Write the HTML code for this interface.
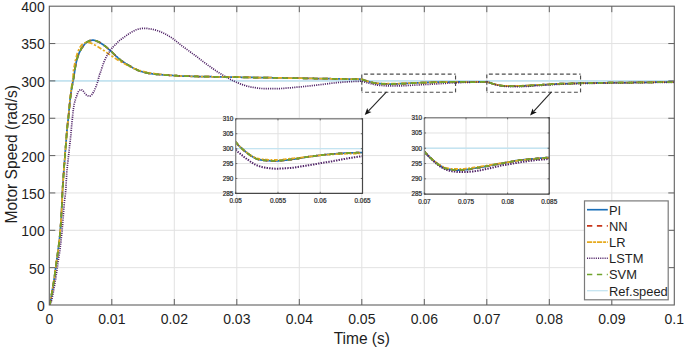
<!DOCTYPE html>
<html><head><meta charset="utf-8"><style>
html,body{margin:0;padding:0;background:#fff;width:685px;height:349px;overflow:hidden}
svg{display:block;font-family:"Liberation Sans",sans-serif}
svg text{fill:#1e1e1e}
svg text.it{stroke:#333;stroke-width:0.22px}
</style></head><body>
<svg width="685" height="349" viewBox="0 0 685 349">
<line x1="111.80" y1="6.20" x2="111.80" y2="305.00" stroke="#e2e2e2" stroke-width="1.0"/>
<line x1="174.30" y1="6.20" x2="174.30" y2="305.00" stroke="#e2e2e2" stroke-width="1.0"/>
<line x1="236.80" y1="6.20" x2="236.80" y2="305.00" stroke="#e2e2e2" stroke-width="1.0"/>
<line x1="299.30" y1="6.20" x2="299.30" y2="305.00" stroke="#e2e2e2" stroke-width="1.0"/>
<line x1="361.80" y1="6.20" x2="361.80" y2="305.00" stroke="#e2e2e2" stroke-width="1.0"/>
<line x1="424.30" y1="6.20" x2="424.30" y2="305.00" stroke="#e2e2e2" stroke-width="1.0"/>
<line x1="486.80" y1="6.20" x2="486.80" y2="305.00" stroke="#e2e2e2" stroke-width="1.0"/>
<line x1="549.30" y1="6.20" x2="549.30" y2="305.00" stroke="#e2e2e2" stroke-width="1.0"/>
<line x1="611.80" y1="6.20" x2="611.80" y2="305.00" stroke="#e2e2e2" stroke-width="1.0"/>
<line x1="49.30" y1="267.65" x2="674.30" y2="267.65" stroke="#e2e2e2" stroke-width="1.0"/>
<line x1="49.30" y1="230.30" x2="674.30" y2="230.30" stroke="#e2e2e2" stroke-width="1.0"/>
<line x1="49.30" y1="192.95" x2="674.30" y2="192.95" stroke="#e2e2e2" stroke-width="1.0"/>
<line x1="49.30" y1="155.60" x2="674.30" y2="155.60" stroke="#e2e2e2" stroke-width="1.0"/>
<line x1="49.30" y1="118.25" x2="674.30" y2="118.25" stroke="#e2e2e2" stroke-width="1.0"/>
<line x1="49.30" y1="80.90" x2="674.30" y2="80.90" stroke="#e2e2e2" stroke-width="1.0"/>
<line x1="49.30" y1="43.55" x2="674.30" y2="43.55" stroke="#e2e2e2" stroke-width="1.0"/>
<clipPath id="cm"><rect x="49.30" y="6.20" width="625.00" height="298.80"/></clipPath>
<line x1="49.30" y1="80.90" x2="674.30" y2="80.90" stroke="#c4e4f1" stroke-width="1.7"/>
<g clip-path="url(#cm)">
<path d="M49.3,305.0 49.8,303.8 50.1,302.7 50.4,301.5 50.7,300.0 50.9,299.1 51.0,298.1 51.2,297.1 51.3,296.1 51.5,295.2 51.6,294.3 51.8,293.3 52.0,292.4 52.1,291.5 52.3,290.6 52.4,289.6 52.6,288.7 52.7,287.8 52.9,286.9 53.1,286.0 53.2,285.1 53.4,284.2 53.5,283.3 53.7,282.3 53.8,281.4 54.0,280.4 54.1,279.3 54.3,278.2 54.5,277.1 54.6,275.9 54.8,274.7 54.9,273.5 55.1,272.3 55.2,271.1 55.4,269.9 55.6,268.7 55.7,267.5 55.9,266.4 56.0,265.3 56.2,264.2 56.3,263.1 56.5,262.0 56.6,260.9 56.8,259.8 57.0,258.7 57.1,257.5 57.3,256.4 57.4,255.3 57.6,254.1 57.7,253.0 57.9,251.8 58.1,250.7 58.2,249.6 58.4,248.5 58.5,247.3 58.7,246.1 58.8,244.9 59.0,243.6 59.1,242.3 59.3,240.9 59.5,239.4 59.6,237.9 59.8,236.2 59.9,234.5 60.1,232.7 60.2,230.8 60.4,228.8 60.6,226.8 60.7,224.7 60.9,222.5 61.0,220.2 61.2,217.9 61.3,215.4 61.5,212.7 61.6,209.9 61.8,206.9 62.0,203.7 62.1,199.8 62.3,195.8 62.4,192.3 62.6,189.4 62.7,186.8 62.9,184.2 63.1,181.9 63.2,179.6 63.4,177.3 63.5,175.1 63.7,172.9 63.8,170.7 64.0,168.6 64.1,166.5 64.3,164.5 64.5,162.5 64.6,160.5 64.8,158.5 64.9,156.5 65.1,154.5 65.2,152.4 65.4,150.4 65.6,148.3 65.7,146.2 65.9,144.2 66.0,142.2 66.2,140.3 66.3,138.3 66.5,136.4 66.6,134.5 66.8,132.6 67.0,130.7 67.1,128.9 67.3,127.3 67.4,125.7 67.6,124.3 67.7,123.0 67.9,121.8 68.1,120.5 68.2,119.2 68.4,117.8 68.5,116.2 68.7,114.6 68.8,112.9 69.0,111.2 69.1,109.5 69.3,107.8 69.5,106.1 69.6,104.5 69.8,103.0 69.9,101.5 70.1,100.2 70.2,98.8 70.4,97.5 70.6,96.3 70.7,95.0 70.9,93.8 71.0,92.7 71.2,91.6 71.3,90.6 71.5,89.6 71.6,88.7 71.8,87.7 72.0,86.9 72.1,86.0 72.3,85.1 72.4,84.3 72.7,82.8 73.1,81.3 73.2,80.5 73.4,79.6 73.5,78.7 73.7,77.7 73.8,76.7 74.0,75.7 74.1,74.6 74.3,73.6 74.5,72.6 74.6,71.6 74.8,70.6 74.9,69.6 75.1,68.6 75.2,67.6 75.4,66.6 75.6,65.7 75.7,64.8 76.0,63.3 76.3,61.9 76.7,60.6 77.0,59.4 77.3,58.3 77.6,57.2 77.9,56.3 78.2,55.4 78.5,54.6 78.8,53.8 79.2,53.0 79.6,52.0 80.1,51.0 80.6,50.2 81.0,49.3 81.5,48.6 82.0,47.9 82.4,47.2 82.9,46.5 83.5,45.7 84.2,44.8 84.8,44.0 85.4,43.3 86.0,42.8 86.8,42.2 87.6,41.7 88.4,41.3 89.2,40.9 89.9,40.7 90.7,40.5 91.5,40.3 92.4,40.1 93.4,40.1 94.3,40.3 95.1,40.5 95.9,40.8 96.7,41.1 97.4,41.4 98.2,41.7 99.0,42.1 99.8,42.6 100.6,43.1 101.3,43.6 102.1,44.0 102.9,44.6 103.7,45.1 104.5,45.7 105.3,46.3 106.0,46.9 106.7,47.4 107.3,47.9 107.9,48.5 108.5,49.1 109.2,49.6 109.8,50.2 110.4,50.7 111.0,51.3 111.7,51.8 112.3,52.4 112.9,53.1 113.5,53.7 114.2,54.3 114.8,54.9 115.4,55.5 116.0,56.1 116.7,56.7 117.3,57.2 117.9,57.8 118.5,58.3 119.2,58.9 119.8,59.4 120.4,59.9 121.0,60.4 121.8,61.0 122.6,61.6 123.4,62.1 124.2,62.6 124.9,63.1 125.7,63.6 126.5,64.0 127.3,64.5 128.1,64.9 128.9,65.4 129.6,65.9 130.4,66.3 131.2,66.8 132.0,67.3 132.8,67.7 133.5,68.2 134.3,68.6 135.1,68.9 135.9,69.3 136.7,69.7 137.4,70.1 138.2,70.4 139.0,70.7 139.8,71.0 140.6,71.3 141.4,71.5 142.1,71.7 142.9,72.0 143.7,72.2 144.5,72.4 145.3,72.6 146.0,72.7 146.8,72.9 147.8,73.1 148.7,73.3 149.6,73.4 150.6,73.6 151.5,73.7 152.5,73.8 153.4,73.9 154.3,74.1 155.3,74.2 156.2,74.3 157.1,74.3 158.1,74.4 159.0,74.5 160.0,74.6 160.9,74.7 161.8,74.7 162.8,74.8 163.7,74.9 164.6,75.0 165.6,75.0 166.5,75.1 167.5,75.1 168.4,75.2 169.3,75.3 170.3,75.3 171.2,75.4 172.1,75.4 173.1,75.5 174.0,75.6 175.0,75.6 175.9,75.7 176.8,75.7 177.8,75.8 178.7,75.8 179.6,75.9 180.6,75.9 181.5,76.0 182.5,76.0 183.4,76.0 184.3,76.1 185.3,76.1 186.2,76.1 187.1,76.2 188.1,76.2 189.0,76.2 190.0,76.2 190.9,76.3 191.8,76.3 192.8,76.3 193.7,76.3 194.6,76.4 195.6,76.4 196.5,76.4 197.5,76.4 198.4,76.5 199.3,76.5 200.3,76.5 201.2,76.5 202.2,76.5 203.1,76.6 204.0,76.6 205.0,76.6 205.9,76.6 206.8,76.7 207.8,76.7 208.7,76.7 209.7,76.7 210.6,76.7 211.5,76.7 212.5,76.8 213.4,76.8 214.3,76.8 215.3,76.8 216.2,76.8 217.2,76.9 218.1,76.9 219.0,76.9 220.0,76.9 220.9,76.9 221.8,76.9 222.8,77.0 223.7,77.0 224.7,77.0 225.6,77.0 226.5,77.0 227.5,77.0 228.4,77.0 229.3,77.1 230.3,77.1 231.2,77.1 232.2,77.1 233.1,77.1 234.0,77.1 235.0,77.2 235.9,77.2 236.8,77.2 237.8,77.2 238.7,77.2 239.7,77.2 240.6,77.2 241.5,77.3 242.5,77.3 243.4,77.3 244.3,77.3 245.3,77.3 246.2,77.3 247.2,77.4 248.1,77.4 249.0,77.4 250.0,77.4 250.9,77.4 251.9,77.4 252.8,77.4 253.7,77.5 254.7,77.5 255.6,77.5 256.5,77.5 257.5,77.5 258.4,77.5 259.4,77.6 260.3,77.6 261.2,77.6 262.2,77.6 263.1,77.6 264.0,77.6 265.0,77.6 265.9,77.7 266.9,77.7 267.8,77.7 268.7,77.7 269.7,77.7 270.6,77.7 271.5,77.7 272.5,77.8 273.4,77.8 274.4,77.8 275.3,77.8 276.2,77.8 277.2,77.8 278.1,77.8 279.0,77.9 280.0,77.9 280.9,77.9 281.9,77.9 282.8,77.9 283.7,77.9 284.7,78.0 285.6,78.0 286.5,78.0 287.5,78.0 288.4,78.0 289.4,78.0 290.3,78.0 291.2,78.1 292.2,78.1 293.1,78.1 294.0,78.1 295.0,78.1 295.9,78.1 296.9,78.1 297.8,78.2 298.7,78.2 299.7,78.2 300.6,78.2 301.6,78.2 302.5,78.2 303.4,78.3 304.4,78.3 305.3,78.3 306.2,78.3 307.2,78.3 308.1,78.3 309.1,78.4 310.0,78.4 310.9,78.4 311.9,78.4 312.8,78.4 313.7,78.4 314.7,78.5 315.6,78.5 316.6,78.5 317.5,78.5 318.4,78.5 319.4,78.5 320.3,78.6 321.2,78.6 322.2,78.6 323.1,78.6 324.1,78.6 325.0,78.6 325.9,78.7 326.9,78.7 327.8,78.7 328.7,78.7 329.7,78.7 330.6,78.7 331.6,78.8 332.5,78.8 333.4,78.8 334.4,78.8 335.3,78.8 336.2,78.8 337.2,78.9 338.1,78.9 339.1,78.9 340.0,78.9 340.9,78.9 341.9,78.9 342.8,78.9 343.7,78.9 344.7,79.0 345.6,79.0 346.6,79.0 347.5,79.0 348.4,79.0 349.4,79.0 350.3,79.0 351.3,79.0 352.2,79.0 353.1,79.0 354.1,79.0 355.0,79.1 355.9,79.1 356.9,79.1 357.8,79.1 358.8,79.2 359.7,79.2 360.6,79.2 361.6,79.3 362.5,79.5 363.3,79.9 364.1,80.2 364.8,80.4 365.6,80.6 366.4,80.9 367.2,81.1 368.0,81.4 368.8,81.6 369.5,81.8 370.3,82.0 371.1,82.2 371.9,82.4 372.7,82.6 373.6,82.8 374.5,83.0 375.5,83.2 376.4,83.3 377.4,83.5 378.3,83.6 379.2,83.6 380.2,83.7 381.1,83.7 382.0,83.8 383.0,83.8 383.9,83.9 384.9,83.9 385.8,83.9 386.7,83.9 387.7,83.9 388.6,84.0 389.5,84.0 390.5,84.0 391.4,84.0 392.4,84.0 393.3,83.9 394.2,83.9 395.2,83.9 396.1,83.9 397.0,83.8 398.0,83.8 398.9,83.8 399.9,83.7 400.8,83.7 401.7,83.6 402.7,83.6 403.6,83.6 404.5,83.5 405.5,83.5 406.4,83.4 407.4,83.4 408.3,83.3 409.2,83.3 410.2,83.2 411.1,83.2 412.0,83.1 413.0,83.1 413.9,83.0 414.9,83.0 415.8,82.9 416.7,82.9 417.7,82.8 418.6,82.8 419.5,82.8 420.5,82.7 421.4,82.7 422.4,82.6 423.3,82.6 424.2,82.6 425.2,82.5 426.1,82.5 427.1,82.4 428.0,82.4 428.9,82.4 429.9,82.4 430.8,82.3 431.7,82.3 432.7,82.3 433.6,82.2 434.6,82.2 435.5,82.2 436.4,82.2 437.4,82.1 438.3,82.1 439.2,82.1 440.2,82.1 441.1,82.1 442.1,82.0 443.0,82.0 443.9,82.0 444.9,82.0 445.8,82.0 446.7,82.0 447.7,82.0 448.6,82.0 449.6,81.9 450.5,81.9 451.4,81.9 452.4,81.9 453.3,81.9 454.2,81.9 455.2,81.9 456.1,81.9 457.1,81.9 458.0,81.9 458.9,81.9 459.9,81.9 460.8,81.9 461.7,81.9 462.7,81.9 463.6,81.9 464.6,81.9 465.5,82.0 466.4,82.0 467.4,82.0 468.3,82.0 469.2,82.0 470.2,82.0 471.1,82.0 472.1,82.0 473.0,82.0 473.9,82.0 474.9,82.0 475.8,81.9 476.8,81.9 477.7,81.9 478.6,81.9 479.6,81.9 480.5,81.8 481.4,81.8 482.4,81.8 483.3,81.8 484.3,81.8 485.2,81.8 486.1,81.8 487.1,81.8 487.8,82.1 488.6,82.4 489.4,82.6 490.2,82.9 491.0,83.1 491.8,83.4 492.5,83.6 493.3,83.8 494.1,84.0 494.9,84.3 495.7,84.5 496.4,84.7 497.2,84.9 498.0,85.0 498.9,85.2 499.9,85.4 500.8,85.6 501.8,85.7 502.7,85.8 503.6,85.9 504.6,86.0 505.5,86.1 506.4,86.1 507.4,86.1 508.3,86.2 509.3,86.2 510.2,86.2 511.1,86.2 512.1,86.2 513.0,86.2 513.9,86.2 514.9,86.2 515.8,86.2 516.8,86.2 517.7,86.1 518.6,86.1 519.6,86.1 520.5,86.0 521.4,86.0 522.4,85.9 523.3,85.8 524.3,85.8 525.2,85.7 526.1,85.7 527.1,85.6 528.0,85.6 529.0,85.5 529.9,85.5 530.8,85.4 531.8,85.4 532.7,85.3 533.6,85.3 534.6,85.2 535.5,85.2 536.5,85.1 537.4,85.0 538.3,85.0 539.3,84.9 540.2,84.9 541.1,84.8 542.1,84.8 543.0,84.7 544.0,84.6 544.9,84.6 545.8,84.5 546.8,84.5 547.7,84.4 548.6,84.4 549.6,84.3 550.5,84.3 551.5,84.2 552.4,84.1 553.3,84.1 554.3,84.0 555.2,84.0 556.1,83.9 557.1,83.9 558.0,83.8 559.0,83.8 559.9,83.7 560.8,83.7 561.8,83.7 562.7,83.7 563.6,83.6 564.6,83.6 565.5,83.6 566.5,83.6 567.4,83.5 568.3,83.5 569.3,83.5 570.2,83.5 571.1,83.4 572.1,83.4 573.0,83.4 574.0,83.3 574.9,83.3 575.8,83.3 576.8,83.3 577.7,83.2 578.7,83.2 579.6,83.2 580.5,83.2 581.5,83.1 582.4,83.1 583.3,83.1 584.3,83.1 585.2,83.1 586.2,83.1 587.1,83.0 588.0,83.0 589.0,83.0 589.9,83.0 590.8,83.0 591.8,83.0 592.7,82.9 593.7,82.9 594.6,82.9 595.5,82.9 596.5,82.9 597.4,82.9 598.3,82.9 599.3,82.9 600.2,82.8 601.2,82.8 602.1,82.8 603.0,82.8 604.0,82.8 604.9,82.8 605.8,82.8 606.8,82.8 607.7,82.7 608.7,82.7 609.6,82.7 610.5,82.7 611.5,82.7 612.4,82.7 613.3,82.7 614.3,82.7 615.2,82.7 616.2,82.6 617.1,82.6 618.0,82.6 619.0,82.6 619.9,82.6 620.8,82.6 621.8,82.6 622.7,82.6 623.7,82.6 624.6,82.5 625.5,82.5 626.5,82.5 627.4,82.5 628.4,82.5 629.3,82.5 630.2,82.5 631.2,82.5 632.1,82.5 633.0,82.5 634.0,82.4 634.9,82.4 635.9,82.4 636.8,82.4 637.7,82.4 638.7,82.4 639.6,82.4 640.5,82.4 641.5,82.4 642.4,82.4 643.4,82.4 644.3,82.3 645.2,82.3 646.2,82.3 647.1,82.3 648.0,82.3 649.0,82.3 649.9,82.3 650.9,82.3 651.8,82.3 652.7,82.3 653.7,82.3 654.6,82.2 655.5,82.2 656.5,82.2 657.4,82.2 658.4,82.2 659.3,82.2 660.2,82.2 661.2,82.2 662.1,82.2 663.0,82.2 664.0,82.2 664.9,82.1 665.9,82.1 666.8,82.1 667.7,82.1 668.7,82.1 669.6,82.1 670.5,82.1 671.5,82.1 672.4,82.1 673.4,82.1 674.3,82.1" stroke="#1a6fb8" stroke-width="1.75" fill="none"/>
<path d="M49.3,305.0 49.8,303.8 50.1,302.7 50.4,301.5 50.7,300.0 50.9,299.1 51.0,298.1 51.2,297.1 51.3,296.1 51.5,295.2 51.6,294.3 51.8,293.3 52.0,292.4 52.1,291.5 52.3,290.6 52.4,289.6 52.6,288.7 52.7,287.8 52.9,286.9 53.1,286.0 53.2,285.1 53.4,284.2 53.5,283.3 53.7,282.3 53.8,281.4 54.0,280.4 54.1,279.3 54.3,278.2 54.5,277.1 54.6,275.9 54.8,274.7 54.9,273.5 55.1,272.3 55.2,271.1 55.4,269.9 55.6,268.7 55.7,267.5 55.9,266.4 56.0,265.3 56.2,264.2 56.3,263.1 56.5,262.0 56.6,260.9 56.8,259.8 57.0,258.7 57.1,257.5 57.3,256.4 57.4,255.3 57.6,254.1 57.7,253.0 57.9,251.8 58.1,250.7 58.2,249.6 58.4,248.5 58.5,247.3 58.7,246.1 58.8,244.9 59.0,243.6 59.1,242.3 59.3,240.9 59.5,239.4 59.6,237.9 59.8,236.2 59.9,234.5 60.1,232.7 60.2,230.8 60.4,228.8 60.6,226.8 60.7,224.7 60.9,222.5 61.0,220.2 61.2,217.9 61.3,215.4 61.5,212.7 61.6,209.9 61.8,206.9 62.0,203.7 62.1,199.8 62.3,195.8 62.4,192.3 62.6,189.4 62.7,186.8 62.9,184.2 63.1,181.9 63.2,179.6 63.4,177.3 63.5,175.1 63.7,172.9 63.8,170.7 64.0,168.6 64.1,166.5 64.3,164.5 64.5,162.5 64.6,160.5 64.8,158.5 64.9,156.5 65.1,154.5 65.2,152.4 65.4,150.4 65.6,148.3 65.7,146.2 65.9,144.2 66.0,142.2 66.2,140.3 66.3,138.3 66.5,136.4 66.6,134.5 66.8,132.6 67.0,130.7 67.1,128.9 67.3,127.3 67.4,125.7 67.6,124.3 67.7,123.0 67.9,121.8 68.1,120.5 68.2,119.2 68.4,117.8 68.5,116.2 68.7,114.6 68.8,112.9 69.0,111.2 69.1,109.5 69.3,107.8 69.5,106.1 69.6,104.5 69.8,103.0 69.9,101.5 70.1,100.2 70.2,98.8 70.4,97.5 70.6,96.3 70.7,95.0 70.9,93.8 71.0,92.7 71.2,91.6 71.3,90.6 71.5,89.6 71.6,88.7 71.8,87.7 72.0,86.9 72.1,86.0 72.3,85.1 72.4,84.3 72.7,82.8 73.1,81.3 73.2,80.5 73.4,79.6 73.5,78.7 73.7,77.7 73.8,76.7 74.0,75.7 74.1,74.6 74.3,73.6 74.5,72.6 74.6,71.6 74.8,70.6 74.9,69.6 75.1,68.6 75.2,67.6 75.4,66.6 75.6,65.7 75.7,64.8 76.0,63.3 76.3,61.9 76.7,60.6 77.0,59.4 77.3,58.3 77.6,57.2 77.9,56.3 78.2,55.4 78.5,54.6 78.8,53.8 79.2,53.0 79.6,52.0 80.1,51.0 80.6,50.2 81.0,49.3 81.5,48.6 82.0,47.9 82.4,47.2 82.9,46.5 83.5,45.7 84.2,44.8 84.8,44.0 85.4,43.3 86.0,42.8 86.8,42.2 87.6,41.7 88.4,41.3 89.2,40.9 89.9,40.7 90.7,40.5 91.5,40.3 92.4,40.1 93.4,40.1 94.3,40.3 95.1,40.5 95.9,40.8 96.7,41.1 97.4,41.4 98.2,41.7 99.0,42.1 99.8,42.6 100.6,43.1 101.3,43.6 102.1,44.0 102.9,44.6 103.7,45.1 104.5,45.7 105.3,46.3 106.0,46.9 106.7,47.4 107.3,47.9 107.9,48.5 108.5,49.1 109.2,49.6 109.8,50.2 110.4,50.7 111.0,51.3 111.7,51.8 112.3,52.4 112.9,53.1 113.5,53.7 114.2,54.3 114.8,54.9 115.4,55.5 116.0,56.1 116.7,56.7 117.3,57.2 117.9,57.8 118.5,58.3 119.2,58.9 119.8,59.4 120.4,59.9 121.0,60.4 121.8,61.0 122.6,61.6 123.4,62.1 124.2,62.6 124.9,63.1 125.7,63.6 126.5,64.0 127.3,64.5 128.1,64.9 128.9,65.4 129.6,65.9 130.4,66.3 131.2,66.8 132.0,67.3 132.8,67.7 133.5,68.2 134.3,68.6 135.1,68.9 135.9,69.3 136.7,69.7 137.4,70.1 138.2,70.4 139.0,70.7 139.8,71.0 140.6,71.3 141.4,71.5 142.1,71.7 142.9,72.0 143.7,72.2 144.5,72.4 145.3,72.6 146.0,72.7 146.8,72.9 147.8,73.1 148.7,73.3 149.6,73.4 150.6,73.6 151.5,73.7 152.5,73.8 153.4,73.9 154.3,74.1 155.3,74.2 156.2,74.3 157.1,74.3 158.1,74.4 159.0,74.5 160.0,74.6 160.9,74.7 161.8,74.7 162.8,74.8 163.7,74.9 164.6,75.0 165.6,75.0 166.5,75.1 167.5,75.1 168.4,75.2 169.3,75.3 170.3,75.3 171.2,75.4 172.1,75.4 173.1,75.5 174.0,75.6 175.0,75.6 175.9,75.7 176.8,75.7 177.8,75.8 178.7,75.8 179.6,75.9 180.6,75.9 181.5,76.0 182.5,76.0 183.4,76.0 184.3,76.1 185.3,76.1 186.2,76.1 187.1,76.2 188.1,76.2 189.0,76.2 190.0,76.2 190.9,76.3 191.8,76.3 192.8,76.3 193.7,76.3 194.6,76.4 195.6,76.4 196.5,76.4 197.5,76.4 198.4,76.5 199.3,76.5 200.3,76.5 201.2,76.5 202.2,76.5 203.1,76.6 204.0,76.6 205.0,76.6 205.9,76.6 206.8,76.7 207.8,76.7 208.7,76.7 209.7,76.7 210.6,76.7 211.5,76.7 212.5,76.8 213.4,76.8 214.3,76.8 215.3,76.8 216.2,76.8 217.2,76.9 218.1,76.9 219.0,76.9 220.0,76.9 220.9,76.9 221.8,76.9 222.8,77.0 223.7,77.0 224.7,77.0 225.6,77.0 226.5,77.0 227.5,77.0 228.4,77.0 229.3,77.1 230.3,77.1 231.2,77.1 232.2,77.1 233.1,77.1 234.0,77.1 235.0,77.2 235.9,77.2 236.8,77.2 237.8,77.2 238.7,77.2 239.7,77.2 240.6,77.2 241.5,77.3 242.5,77.3 243.4,77.3 244.3,77.3 245.3,77.3 246.2,77.3 247.2,77.4 248.1,77.4 249.0,77.4 250.0,77.4 250.9,77.4 251.9,77.4 252.8,77.4 253.7,77.5 254.7,77.5 255.6,77.5 256.5,77.5 257.5,77.5 258.4,77.5 259.4,77.6 260.3,77.6 261.2,77.6 262.2,77.6 263.1,77.6 264.0,77.6 265.0,77.6 265.9,77.7 266.9,77.7 267.8,77.7 268.7,77.7 269.7,77.7 270.6,77.7 271.5,77.7 272.5,77.8 273.4,77.8 274.4,77.8 275.3,77.8 276.2,77.8 277.2,77.8 278.1,77.8 279.0,77.9 280.0,77.9 280.9,77.9 281.9,77.9 282.8,77.9 283.7,77.9 284.7,78.0 285.6,78.0 286.5,78.0 287.5,78.0 288.4,78.0 289.4,78.0 290.3,78.0 291.2,78.1 292.2,78.1 293.1,78.1 294.0,78.1 295.0,78.1 295.9,78.1 296.9,78.1 297.8,78.2 298.7,78.2 299.7,78.2 300.6,78.2 301.6,78.2 302.5,78.2 303.4,78.3 304.4,78.3 305.3,78.3 306.2,78.3 307.2,78.3 308.1,78.3 309.1,78.4 310.0,78.4 310.9,78.4 311.9,78.4 312.8,78.4 313.7,78.4 314.7,78.5 315.6,78.5 316.6,78.5 317.5,78.5 318.4,78.5 319.4,78.5 320.3,78.6 321.2,78.6 322.2,78.6 323.1,78.6 324.1,78.6 325.0,78.6 325.9,78.7 326.9,78.7 327.8,78.7 328.7,78.7 329.7,78.7 330.6,78.7 331.6,78.8 332.5,78.8 333.4,78.8 334.4,78.8 335.3,78.8 336.2,78.8 337.2,78.9 338.1,78.9 339.1,78.9 340.0,78.9 340.9,78.9 341.9,78.9 342.8,78.9 343.7,78.9 344.7,79.0 345.6,79.0 346.6,79.0 347.5,79.0 348.4,79.0 349.4,79.0 350.3,79.0 351.3,79.0 352.2,79.0 353.1,79.0 354.1,79.0 355.0,79.1 355.9,79.1 356.9,79.1 357.8,79.1 358.8,79.2 359.7,79.2 360.6,79.2 361.6,79.3 362.5,79.5 363.3,79.9 364.1,80.2 364.8,80.4 365.6,80.6 366.4,80.9 367.2,81.1 368.0,81.4 368.8,81.6 369.5,81.8 370.3,82.0 371.1,82.2 371.9,82.4 372.7,82.6 373.6,82.8 374.5,83.0 375.5,83.2 376.4,83.3 377.4,83.5 378.3,83.6 379.2,83.6 380.2,83.7 381.1,83.7 382.0,83.8 383.0,83.8 383.9,83.9 384.9,83.9 385.8,83.9 386.7,83.9 387.7,83.9 388.6,84.0 389.5,84.0 390.5,84.0 391.4,84.0 392.4,84.0 393.3,83.9 394.2,83.9 395.2,83.9 396.1,83.9 397.0,83.8 398.0,83.8 398.9,83.8 399.9,83.7 400.8,83.7 401.7,83.6 402.7,83.6 403.6,83.6 404.5,83.5 405.5,83.5 406.4,83.4 407.4,83.4 408.3,83.3 409.2,83.3 410.2,83.2 411.1,83.2 412.0,83.1 413.0,83.1 413.9,83.0 414.9,83.0 415.8,82.9 416.7,82.9 417.7,82.8 418.6,82.8 419.5,82.8 420.5,82.7 421.4,82.7 422.4,82.6 423.3,82.6 424.2,82.6 425.2,82.5 426.1,82.5 427.1,82.4 428.0,82.4 428.9,82.4 429.9,82.4 430.8,82.3 431.7,82.3 432.7,82.3 433.6,82.2 434.6,82.2 435.5,82.2 436.4,82.2 437.4,82.1 438.3,82.1 439.2,82.1 440.2,82.1 441.1,82.1 442.1,82.0 443.0,82.0 443.9,82.0 444.9,82.0 445.8,82.0 446.7,82.0 447.7,82.0 448.6,82.0 449.6,81.9 450.5,81.9 451.4,81.9 452.4,81.9 453.3,81.9 454.2,81.9 455.2,81.9 456.1,81.9 457.1,81.9 458.0,81.9 458.9,81.9 459.9,81.9 460.8,81.9 461.7,81.9 462.7,81.9 463.6,81.9 464.6,81.9 465.5,82.0 466.4,82.0 467.4,82.0 468.3,82.0 469.2,82.0 470.2,82.0 471.1,82.0 472.1,82.0 473.0,82.0 473.9,82.0 474.9,82.0 475.8,81.9 476.8,81.9 477.7,81.9 478.6,81.9 479.6,81.9 480.5,81.8 481.4,81.8 482.4,81.8 483.3,81.8 484.3,81.8 485.2,81.8 486.1,81.8 487.1,81.8 487.8,82.1 488.6,82.4 489.4,82.6 490.2,82.9 491.0,83.1 491.8,83.4 492.5,83.6 493.3,83.8 494.1,84.0 494.9,84.3 495.7,84.5 496.4,84.7 497.2,84.9 498.0,85.0 498.9,85.2 499.9,85.4 500.8,85.6 501.8,85.7 502.7,85.8 503.6,85.9 504.6,86.0 505.5,86.1 506.4,86.1 507.4,86.1 508.3,86.2 509.3,86.2 510.2,86.2 511.1,86.2 512.1,86.2 513.0,86.2 513.9,86.2 514.9,86.2 515.8,86.2 516.8,86.2 517.7,86.1 518.6,86.1 519.6,86.1 520.5,86.0 521.4,86.0 522.4,85.9 523.3,85.8 524.3,85.8 525.2,85.7 526.1,85.7 527.1,85.6 528.0,85.6 529.0,85.5 529.9,85.5 530.8,85.4 531.8,85.4 532.7,85.3 533.6,85.3 534.6,85.2 535.5,85.2 536.5,85.1 537.4,85.0 538.3,85.0 539.3,84.9 540.2,84.9 541.1,84.8 542.1,84.8 543.0,84.7 544.0,84.6 544.9,84.6 545.8,84.5 546.8,84.5 547.7,84.4 548.6,84.4 549.6,84.3 550.5,84.3 551.5,84.2 552.4,84.1 553.3,84.1 554.3,84.0 555.2,84.0 556.1,83.9 557.1,83.9 558.0,83.8 559.0,83.8 559.9,83.7 560.8,83.7 561.8,83.7 562.7,83.7 563.6,83.6 564.6,83.6 565.5,83.6 566.5,83.6 567.4,83.5 568.3,83.5 569.3,83.5 570.2,83.5 571.1,83.4 572.1,83.4 573.0,83.4 574.0,83.3 574.9,83.3 575.8,83.3 576.8,83.3 577.7,83.2 578.7,83.2 579.6,83.2 580.5,83.2 581.5,83.1 582.4,83.1 583.3,83.1 584.3,83.1 585.2,83.1 586.2,83.1 587.1,83.0 588.0,83.0 589.0,83.0 589.9,83.0 590.8,83.0 591.8,83.0 592.7,82.9 593.7,82.9 594.6,82.9 595.5,82.9 596.5,82.9 597.4,82.9 598.3,82.9 599.3,82.9 600.2,82.8 601.2,82.8 602.1,82.8 603.0,82.8 604.0,82.8 604.9,82.8 605.8,82.8 606.8,82.8 607.7,82.7 608.7,82.7 609.6,82.7 610.5,82.7 611.5,82.7 612.4,82.7 613.3,82.7 614.3,82.7 615.2,82.7 616.2,82.6 617.1,82.6 618.0,82.6 619.0,82.6 619.9,82.6 620.8,82.6 621.8,82.6 622.7,82.6 623.7,82.6 624.6,82.5 625.5,82.5 626.5,82.5 627.4,82.5 628.4,82.5 629.3,82.5 630.2,82.5 631.2,82.5 632.1,82.5 633.0,82.5 634.0,82.4 634.9,82.4 635.9,82.4 636.8,82.4 637.7,82.4 638.7,82.4 639.6,82.4 640.5,82.4 641.5,82.4 642.4,82.4 643.4,82.4 644.3,82.3 645.2,82.3 646.2,82.3 647.1,82.3 648.0,82.3 649.0,82.3 649.9,82.3 650.9,82.3 651.8,82.3 652.7,82.3 653.7,82.3 654.6,82.2 655.5,82.2 656.5,82.2 657.4,82.2 658.4,82.2 659.3,82.2 660.2,82.2 661.2,82.2 662.1,82.2 663.0,82.2 664.0,82.2 664.9,82.1 665.9,82.1 666.8,82.1 667.7,82.1 668.7,82.1 669.6,82.1 670.5,82.1 671.5,82.1 672.4,82.1 673.4,82.1 674.3,82.1" stroke="#c8361a" stroke-width="1.75" fill="none" stroke-dasharray="5.30 4.60"/>
<path d="M49.3,305.0 49.8,303.8 50.1,302.7 50.4,301.5 50.7,300.0 50.9,299.1 51.0,298.1 51.2,297.1 51.3,296.1 51.5,295.2 51.6,294.3 51.8,293.3 52.0,292.4 52.1,291.5 52.3,290.6 52.4,289.6 52.6,288.7 52.7,287.8 52.9,286.9 53.1,286.0 53.2,285.1 53.4,284.2 53.5,283.3 53.7,282.3 53.8,281.4 54.0,280.4 54.1,279.3 54.3,278.2 54.5,277.1 54.6,275.9 54.8,274.7 54.9,273.5 55.1,272.3 55.2,271.1 55.4,269.9 55.6,268.7 55.7,267.5 55.9,266.4 56.0,265.3 56.2,264.2 56.3,263.1 56.5,262.0 56.6,260.9 56.8,259.8 57.0,258.7 57.1,257.5 57.3,256.4 57.4,255.3 57.6,254.1 57.7,253.0 57.9,251.8 58.1,250.7 58.2,249.6 58.4,248.5 58.5,247.3 58.7,246.1 58.8,244.9 59.0,243.6 59.1,242.3 59.3,240.9 59.5,239.4 59.6,237.9 59.8,236.2 59.9,234.5 60.1,232.7 60.2,230.8 60.4,228.8 60.6,226.8 60.7,224.7 60.9,222.5 61.0,220.2 61.2,217.9 61.3,215.4 61.5,212.7 61.6,209.9 61.8,206.9 62.0,203.7 62.1,199.8 62.3,195.8 62.4,192.3 62.6,189.4 62.7,186.8 62.9,184.2 63.1,181.9 63.2,179.6 63.4,177.3 63.5,175.1 63.7,172.9 63.8,170.7 64.0,168.6 64.1,166.5 64.3,164.5 64.5,162.5 64.6,160.5 64.8,158.5 64.9,156.5 65.1,154.5 65.2,152.4 65.4,150.4 65.6,148.3 65.7,146.2 65.9,144.2 66.0,142.2 66.2,140.3 66.3,138.3 66.5,136.4 66.6,134.5 66.8,132.6 67.0,130.7 67.1,128.9 67.3,127.3 67.4,125.7 67.6,124.3 67.7,123.0 67.9,121.8 68.1,120.5 68.2,119.2 68.4,117.8 68.5,116.2 68.7,114.5 68.8,112.7 69.0,110.9 69.1,109.1 69.3,107.2 69.5,105.4 69.6,103.7 69.8,102.1 69.9,100.5 70.1,98.9 70.2,97.4 70.4,95.8 70.6,94.4 70.7,93.0 70.9,91.7 71.0,90.6 71.2,89.5 71.3,88.4 71.5,87.5 71.6,86.5 71.8,85.6 72.0,84.6 72.1,83.8 72.4,82.3 72.6,81.5 72.7,80.4 72.9,78.9 73.1,76.6 73.2,74.1 73.4,72.0 73.5,70.7 73.7,69.5 73.8,68.5 74.0,67.5 74.1,66.7 74.3,65.9 74.5,65.1 74.6,64.3 74.8,63.5 74.9,62.7 75.2,61.2 75.6,59.8 75.9,58.5 76.2,57.3 76.5,56.2 76.8,55.1 77.1,54.1 77.4,53.2 77.7,52.4 78.1,51.6 78.4,50.8 78.8,49.7 79.3,48.7 79.8,47.7 80.2,46.9 80.7,46.2 81.3,45.4 82.0,44.7 82.6,44.1 83.4,43.5 84.2,43.1 84.9,42.8 85.7,42.5 86.7,42.3 87.6,42.3 88.5,42.5 89.3,42.7 90.1,42.9 90.9,43.1 91.7,43.4 92.4,43.7 93.2,44.1 94.0,44.6 94.8,45.0 95.6,45.4 96.3,45.9 97.1,46.3 97.9,46.8 98.7,47.2 99.5,47.7 100.3,48.2 101.0,48.7 101.8,49.2 102.6,49.7 103.4,50.2 104.2,50.7 104.9,51.3 105.7,51.8 106.5,52.4 107.3,53.0 108.1,53.5 108.8,54.1 109.6,54.6 110.4,55.2 111.2,55.7 112.0,56.2 112.8,56.7 113.5,57.3 114.3,57.8 115.1,58.3 115.9,58.8 116.7,59.2 117.4,59.7 118.2,60.2 119.0,60.6 119.8,61.1 120.6,61.5 121.3,61.9 122.1,62.4 122.9,62.8 123.7,63.3 124.5,63.7 125.3,64.1 126.0,64.5 126.8,65.0 127.6,65.4 128.4,65.8 129.2,66.2 129.9,66.6 130.7,66.9 131.5,67.3 132.3,67.7 133.1,68.0 133.9,68.4 134.6,68.7 135.4,69.0 136.2,69.3 137.0,69.6 137.8,69.9 138.5,70.2 139.3,70.5 140.1,70.7 140.9,70.9 141.7,71.1 142.4,71.3 143.2,71.5 144.0,71.7 144.8,71.9 145.7,72.1 146.7,72.3 147.6,72.5 148.5,72.6 149.5,72.8 150.4,73.0 151.4,73.1 152.3,73.3 153.2,73.4 154.2,73.5 155.1,73.7 156.0,73.8 157.0,73.9 157.9,74.0 158.9,74.2 159.8,74.3 160.7,74.4 161.7,74.5 162.6,74.6 163.5,74.7 164.5,74.8 165.4,74.9 166.4,75.0 167.3,75.1 168.2,75.2 169.2,75.2 170.1,75.3 171.0,75.4 172.0,75.4 172.9,75.5 173.9,75.6 174.8,75.6 175.7,75.7 176.7,75.7 177.6,75.8 178.6,75.8 179.5,75.9 180.4,75.9 181.4,76.0 182.3,76.0 183.2,76.0 184.2,76.1 185.1,76.1 186.1,76.1 187.0,76.2 187.9,76.2 188.9,76.2 189.8,76.2 190.7,76.3 191.7,76.3 192.6,76.3 193.6,76.3 194.5,76.4 195.4,76.4 196.4,76.4 197.3,76.4 198.2,76.5 199.2,76.5 200.1,76.5 201.1,76.5 202.0,76.5 202.9,76.6 203.9,76.6 204.8,76.6 205.7,76.6 206.7,76.6 207.6,76.7 208.6,76.7 209.5,76.7 210.4,76.7 211.4,76.7 212.3,76.8 213.2,76.8 214.2,76.8 215.1,76.8 216.1,76.8 217.0,76.8 217.9,76.9 218.9,76.9 219.8,76.9 220.7,76.9 221.7,76.9 222.6,76.9 223.6,77.0 224.5,77.0 225.4,77.0 226.4,77.0 227.3,77.0 228.3,77.0 229.2,77.1 230.1,77.1 231.1,77.1 232.0,77.1 232.9,77.1 233.9,77.1 234.8,77.2 235.8,77.2 236.7,77.2 237.6,77.2 238.6,77.2 239.5,77.2 240.4,77.2 241.4,77.3 242.3,77.3 243.3,77.3 244.2,77.3 245.1,77.3 246.1,77.3 247.0,77.3 247.9,77.4 248.9,77.4 249.8,77.4 250.8,77.4 251.7,77.4 252.6,77.4 253.6,77.5 254.5,77.5 255.4,77.5 256.4,77.5 257.3,77.5 258.3,77.5 259.2,77.6 260.1,77.6 261.1,77.6 262.0,77.6 262.9,77.6 263.9,77.6 264.8,77.6 265.8,77.7 266.7,77.7 267.6,77.7 268.6,77.7 269.5,77.7 270.4,77.7 271.4,77.7 272.3,77.8 273.3,77.8 274.2,77.8 275.1,77.8 276.1,77.8 277.0,77.8 278.0,77.8 278.9,77.9 279.8,77.9 280.8,77.9 281.7,77.9 282.6,77.9 283.6,77.9 284.5,77.9 285.5,78.0 286.4,78.0 287.3,78.0 288.3,78.0 289.2,78.0 290.1,78.0 291.1,78.1 292.0,78.1 293.0,78.1 293.9,78.1 294.8,78.1 295.8,78.1 296.7,78.1 297.6,78.2 298.6,78.2 299.5,78.2 300.5,78.2 301.4,78.2 302.3,78.2 303.3,78.3 304.2,78.3 305.1,78.3 306.1,78.3 307.0,78.3 308.0,78.3 308.9,78.4 309.8,78.4 310.8,78.4 311.7,78.4 312.6,78.4 313.6,78.4 314.5,78.5 315.5,78.5 316.4,78.5 317.3,78.5 318.3,78.5 319.2,78.5 320.1,78.6 321.1,78.6 322.0,78.6 323.0,78.6 323.9,78.6 324.8,78.6 325.8,78.7 326.7,78.7 327.7,78.7 328.6,78.7 329.5,78.7 330.5,78.7 331.4,78.8 332.3,78.8 333.3,78.8 334.2,78.8 335.2,78.8 336.1,78.8 337.0,78.8 338.0,78.9 338.9,78.9 339.8,78.9 340.8,78.9 341.7,78.9 342.7,78.9 343.6,78.9 344.5,79.0 345.5,79.0 346.4,79.0 347.3,79.0 348.3,79.0 349.2,79.0 350.2,79.0 351.1,79.0 352.0,79.0 353.0,79.0 353.9,79.0 354.8,79.1 355.8,79.1 356.7,79.1 357.7,79.1 358.6,79.1 359.5,79.2 360.5,79.2 361.4,79.2 362.3,79.4 363.1,79.8 363.9,80.1 364.7,80.3 365.5,80.6 366.3,80.8 367.0,81.1 367.8,81.3 368.6,81.5 369.4,81.7 370.2,81.9 370.9,82.1 371.7,82.3 372.7,82.5 373.6,82.7 374.5,82.9 375.5,83.1 376.4,83.2 377.4,83.3 378.3,83.4 379.2,83.5 380.2,83.5 381.1,83.5 382.0,83.6 383.0,83.6 383.9,83.6 384.9,83.7 385.8,83.7 386.7,83.7 387.7,83.7 388.6,83.7 389.5,83.7 390.5,83.7 391.4,83.7 392.4,83.7 393.3,83.7 394.2,83.7 395.2,83.7 396.1,83.6 397.0,83.6 398.0,83.6 398.9,83.5 399.9,83.5 400.8,83.5 401.7,83.4 402.7,83.4 403.6,83.4 404.5,83.3 405.5,83.3 406.4,83.3 407.4,83.2 408.3,83.2 409.2,83.2 410.2,83.1 411.1,83.1 412.0,83.1 413.0,83.0 413.9,83.0 414.9,82.9 415.8,82.9 416.7,82.9 417.7,82.8 418.6,82.8 419.5,82.8 420.5,82.7 421.4,82.7 422.4,82.7 423.3,82.6 424.2,82.6 425.2,82.5 426.1,82.5 427.1,82.5 428.0,82.5 428.9,82.4 429.9,82.4 430.8,82.4 431.7,82.4 432.7,82.3 433.6,82.3 434.6,82.3 435.5,82.3 436.4,82.3 437.4,82.3 438.3,82.2 439.2,82.2 440.2,82.2 441.1,82.2 442.1,82.2 443.0,82.2 443.9,82.2 444.9,82.2 445.8,82.1 446.7,82.1 447.7,82.1 448.6,82.1 449.6,82.1 450.5,82.1 451.4,82.1 452.4,82.1 453.3,82.1 454.2,82.1 455.2,82.1 456.1,82.1 457.1,82.1 458.0,82.1 458.9,82.0 459.9,82.0 460.8,82.0 461.7,82.0 462.7,82.0 463.6,82.0 464.6,82.0 465.5,82.0 466.4,82.0 467.4,82.0 468.3,82.0 469.2,82.0 470.2,82.0 471.1,82.0 472.1,82.0 473.0,82.0 473.9,82.0 474.9,81.9 475.8,81.9 476.8,81.9 477.7,81.9 478.6,81.9 479.6,81.8 480.5,81.8 481.4,81.8 482.4,81.8 483.3,81.8 484.3,81.8 485.2,81.8 486.1,81.8 487.1,81.8 487.8,82.1 488.6,82.4 489.4,82.6 490.2,82.9 491.0,83.1 491.8,83.3 492.5,83.6 493.3,83.8 494.1,84.0 494.9,84.2 495.7,84.4 496.4,84.6 497.2,84.8 498.2,84.9 499.1,85.1 500.0,85.3 501.0,85.5 501.9,85.6 502.9,85.7 503.8,85.8 504.7,85.8 505.7,85.9 506.6,85.9 507.5,85.9 508.5,86.0 509.4,86.0 510.4,86.0 511.3,86.0 512.2,86.0 513.2,86.0 514.1,86.0 515.0,85.9 516.0,85.9 516.9,85.9 517.9,85.9 518.8,85.8 519.7,85.8 520.7,85.8 521.6,85.7 522.5,85.7 523.5,85.6 524.4,85.6 525.4,85.5 526.3,85.5 527.2,85.5 528.2,85.4 529.1,85.4 530.0,85.3 531.0,85.3 531.9,85.2 532.9,85.2 533.8,85.1 534.7,85.1 535.7,85.0 536.6,85.0 537.5,84.9 538.5,84.9 539.4,84.8 540.4,84.8 541.3,84.7 542.2,84.7 543.2,84.6 544.1,84.6 545.0,84.5 546.0,84.5 546.9,84.4 547.9,84.4 548.8,84.3 549.7,84.3 550.7,84.2 551.6,84.2 552.6,84.1 553.5,84.1 554.4,84.0 555.4,84.0 556.3,83.9 557.2,83.9 558.2,83.9 559.1,83.8 560.1,83.8 561.0,83.8 561.9,83.7 562.9,83.7 563.8,83.7 564.7,83.6 565.7,83.6 566.6,83.6 567.6,83.6 568.5,83.5 569.4,83.5 570.4,83.5 571.3,83.5 572.2,83.4 573.2,83.4 574.1,83.4 575.1,83.4 576.0,83.4 576.9,83.3 577.9,83.3 578.8,83.3 579.7,83.3 580.7,83.3 581.6,83.3 582.6,83.2 583.5,83.2 584.4,83.2 585.4,83.2 586.3,83.2 587.2,83.2 588.2,83.1 589.1,83.1 590.1,83.1 591.0,83.1 591.9,83.1 592.9,83.0 593.8,83.0 594.7,83.0 595.7,83.0 596.6,83.0 597.6,82.9 598.5,82.9 599.4,82.9 600.4,82.9 601.3,82.9 602.3,82.9 603.2,82.8 604.1,82.8 605.1,82.8 606.0,82.8 606.9,82.8 607.9,82.8 608.8,82.7 609.8,82.7 610.7,82.7 611.6,82.7 612.6,82.7 613.5,82.7 614.4,82.7 615.4,82.6 616.3,82.6 617.3,82.6 618.2,82.6 619.1,82.6 620.1,82.6 621.0,82.6 621.9,82.6 622.9,82.6 623.8,82.5 624.8,82.5 625.7,82.5 626.6,82.5 627.6,82.5 628.5,82.5 629.4,82.5 630.4,82.5 631.3,82.5 632.3,82.5 633.2,82.5 634.1,82.4 635.1,82.4 636.0,82.4 636.9,82.4 637.9,82.4 638.8,82.4 639.8,82.4 640.7,82.4 641.6,82.4 642.6,82.4 643.5,82.4 644.4,82.3 645.4,82.3 646.3,82.3 647.3,82.3 648.2,82.3 649.1,82.3 650.1,82.3 651.0,82.3 652.0,82.3 652.9,82.3 653.8,82.2 654.8,82.2 655.7,82.2 656.6,82.2 657.6,82.2 658.5,82.2 659.5,82.2 660.4,82.2 661.3,82.2 662.3,82.2 663.2,82.2 664.1,82.2 665.1,82.1 666.0,82.1 667.0,82.1 667.9,82.1 668.8,82.1 669.8,82.1 670.7,82.1 671.6,82.1 672.6,82.1 673.5,82.1 674.3,82.1" stroke="#e6aa1e" stroke-width="1.75" fill="none" stroke-dasharray="4.60 1.80 2.20 1.80"/>
<path d="M49.3,305.0 49.9,304.3 50.4,303.4 50.9,302.4 51.2,301.6 51.5,300.6 51.8,299.4 52.1,298.0 52.4,296.5 52.6,295.7 52.7,294.9 52.9,294.1 53.1,293.3 53.2,292.5 53.4,291.7 53.5,290.9 53.7,290.1 53.8,289.3 54.0,288.4 54.1,287.6 54.3,286.7 54.5,285.8 54.6,284.9 54.8,284.0 54.9,283.1 55.1,282.2 55.2,281.3 55.4,280.3 55.6,279.4 55.7,278.4 55.9,277.4 56.0,276.3 56.2,275.3 56.3,274.2 56.5,273.2 56.6,272.1 56.8,271.0 57.0,269.9 57.1,268.9 57.3,267.8 57.4,266.7 57.6,265.7 57.7,264.6 57.9,263.6 58.1,262.5 58.2,261.5 58.4,260.4 58.5,259.3 58.7,258.2 58.8,257.2 59.0,256.1 59.1,255.0 59.3,253.9 59.5,252.8 59.6,251.8 59.8,250.7 59.9,249.6 60.1,248.4 60.2,247.3 60.4,246.0 60.6,244.8 60.7,243.5 60.9,242.1 61.0,240.8 61.2,239.4 61.3,237.9 61.5,236.5 61.6,235.0 61.8,233.4 62.0,231.8 62.1,230.2 62.3,228.5 62.4,226.7 62.6,224.9 62.7,222.9 62.9,220.9 63.1,218.8 63.2,216.7 63.4,214.6 63.5,212.6 63.7,210.5 63.8,208.5 64.0,206.6 64.1,204.7 64.3,203.0 64.5,201.4 64.6,199.9 64.8,198.5 64.9,197.4 65.1,196.3 65.2,195.2 65.4,193.9 65.6,192.3 65.7,190.4 65.9,188.1 66.0,185.6 66.2,182.9 66.3,180.2 66.5,177.5 66.6,174.9 66.8,172.5 67.0,170.5 67.1,168.7 67.3,167.1 67.4,165.6 67.6,164.2 67.7,162.9 67.9,161.6 68.1,160.3 68.2,159.0 68.4,157.7 68.5,156.3 68.7,154.8 68.8,153.3 69.0,151.8 69.1,150.3 69.3,148.8 69.5,147.3 69.6,145.8 69.8,144.5 69.9,143.2 70.1,141.9 70.2,140.5 70.4,139.1 70.6,137.6 70.7,136.0 70.9,134.4 71.0,132.8 71.2,131.1 71.3,129.5 71.5,127.8 71.6,126.1 71.8,124.5 72.0,122.8 72.1,121.2 72.3,119.6 72.4,118.1 72.6,116.5 72.7,115.0 72.9,113.5 73.1,112.0 73.2,110.7 73.4,109.5 73.5,108.4 73.7,107.3 73.8,106.4 74.0,105.5 74.1,104.6 74.5,103.2 74.8,101.9 75.1,100.7 75.4,99.6 75.7,98.6 76.0,97.7 76.3,96.8 76.7,95.9 77.0,95.0 77.3,94.2 77.6,93.3 77.9,92.6 78.4,91.6 78.8,90.9 79.5,90.3 80.2,89.8 81.2,89.6 82.0,90.0 82.7,90.6 83.4,91.3 84.0,92.1 84.6,93.0 85.2,93.7 85.9,94.4 86.5,95.1 87.3,95.6 88.1,95.9 88.8,96.1 89.8,96.1 90.6,95.7 91.2,95.2 91.8,94.6 92.4,93.8 92.9,93.1 93.4,92.3 93.8,91.5 94.3,90.6 94.8,89.6 95.2,88.5 95.6,87.7 95.9,86.9 96.2,86.1 96.5,85.2 96.8,84.3 97.1,83.4 97.4,82.4 97.7,81.3 98.1,80.2 98.4,79.0 98.7,77.8 99.0,76.6 99.3,75.4 99.6,74.4 99.9,73.5 100.3,72.6 100.6,71.8 100.9,70.9 101.2,70.0 101.5,69.0 101.8,68.1 102.1,67.1 102.4,66.2 102.8,65.3 103.1,64.5 103.4,63.6 103.7,62.8 104.0,62.0 104.3,61.2 104.8,60.1 105.3,59.1 105.7,58.1 106.2,57.2 106.7,56.3 107.1,55.5 107.6,54.7 108.1,53.9 108.5,53.1 109.0,52.4 109.5,51.6 109.9,50.9 110.4,50.2 110.9,49.6 111.5,48.8 112.1,48.0 112.8,47.3 113.4,46.6 114.0,46.0 114.6,45.4 115.3,44.8 115.9,44.2 116.5,43.5 117.1,42.8 117.8,42.1 118.4,41.5 119.0,41.0 119.8,40.4 120.6,39.8 121.3,39.2 122.1,38.6 122.9,38.0 123.7,37.5 124.5,36.9 125.3,36.3 126.0,35.7 126.8,35.2 127.6,34.6 128.4,34.1 129.2,33.6 129.9,33.1 130.7,32.6 131.5,32.1 132.3,31.7 133.1,31.3 133.9,30.9 134.6,30.5 135.4,30.2 136.2,29.8 137.0,29.6 137.8,29.3 138.5,29.1 139.3,28.9 140.3,28.7 141.2,28.5 142.1,28.4 143.1,28.4 144.0,28.3 144.9,28.3 145.9,28.3 146.8,28.4 147.8,28.5 148.7,28.7 149.6,28.8 150.6,29.0 151.5,29.1 152.5,29.3 153.4,29.5 154.2,29.7 155.0,29.9 155.7,30.1 156.5,30.3 157.3,30.6 158.1,30.8 158.9,31.1 159.6,31.4 160.4,31.7 161.2,32.0 162.0,32.4 162.8,32.7 163.5,33.1 164.3,33.5 165.1,33.9 165.9,34.3 166.7,34.7 167.5,35.2 168.2,35.6 169.0,36.1 169.8,36.6 170.6,37.1 171.4,37.6 172.1,38.1 172.9,38.7 173.7,39.3 174.5,39.9 175.3,40.5 176.1,41.1 176.7,41.6 177.3,42.1 177.9,42.6 178.6,43.2 179.2,43.7 179.8,44.2 180.6,44.8 181.4,45.4 182.1,46.0 182.9,46.6 183.7,47.1 184.5,47.7 185.3,48.3 186.1,48.9 186.8,49.4 187.6,50.0 188.4,50.6 189.2,51.1 190.0,51.7 190.7,52.2 191.5,52.8 192.3,53.4 193.1,53.9 193.9,54.5 194.6,55.0 195.4,55.6 196.2,56.2 197.0,56.8 197.8,57.4 198.6,58.0 199.3,58.7 200.1,59.3 200.9,59.9 201.7,60.5 202.5,61.1 203.2,61.7 204.0,62.3 204.8,62.9 205.6,63.5 206.4,64.0 207.2,64.6 207.9,65.2 208.7,65.7 209.5,66.3 210.3,66.8 211.1,67.4 211.8,67.9 212.6,68.5 213.4,69.0 214.2,69.6 215.0,70.1 215.7,70.6 216.5,71.1 217.3,71.7 218.1,72.2 218.9,72.7 219.7,73.2 220.4,73.7 221.2,74.1 222.0,74.6 222.8,75.1 223.6,75.6 224.3,76.0 225.1,76.5 225.9,76.9 226.7,77.4 227.5,77.8 228.3,78.2 229.0,78.6 229.8,79.1 230.6,79.5 231.4,79.9 232.2,80.3 232.9,80.6 233.7,81.0 234.5,81.4 235.3,81.7 236.1,82.1 236.8,82.4 237.6,82.8 238.4,83.1 239.2,83.4 240.0,83.8 240.8,84.1 241.5,84.4 242.3,84.6 243.1,84.9 243.9,85.2 244.7,85.4 245.4,85.6 246.2,85.9 247.0,86.1 247.8,86.3 248.6,86.5 249.4,86.7 250.3,86.9 251.2,87.1 252.2,87.2 253.1,87.4 254.0,87.6 255.0,87.7 255.9,87.9 256.9,88.0 257.8,88.1 258.7,88.2 259.7,88.3 260.6,88.4 261.5,88.5 262.5,88.5 263.4,88.6 264.4,88.6 265.3,88.6 266.2,88.6 267.2,88.6 268.1,88.7 269.0,88.7 270.0,88.7 270.9,88.7 271.9,88.7 272.8,88.7 273.7,88.7 274.7,88.7 275.6,88.7 276.5,88.7 277.5,88.7 278.4,88.6 279.4,88.6 280.3,88.5 281.2,88.5 282.2,88.4 283.1,88.3 284.0,88.3 285.0,88.2 285.9,88.1 286.9,88.1 287.8,88.0 288.7,87.9 289.7,87.9 290.6,87.8 291.5,87.7 292.5,87.6 293.4,87.5 294.4,87.4 295.3,87.3 296.2,87.2 297.2,87.1 298.1,87.1 299.0,87.0 300.0,86.9 300.9,86.8 301.9,86.7 302.8,86.6 303.7,86.5 304.7,86.4 305.6,86.3 306.6,86.2 307.5,86.1 308.4,86.0 309.4,85.9 310.3,85.8 311.2,85.7 312.2,85.6 313.1,85.5 314.1,85.4 315.0,85.3 315.9,85.2 316.9,85.1 317.8,85.0 318.7,84.8 319.7,84.7 320.6,84.6 321.6,84.5 322.5,84.4 323.4,84.3 324.4,84.2 325.3,84.0 326.2,83.9 327.2,83.8 328.1,83.7 329.1,83.6 330.0,83.4 330.9,83.3 331.9,83.2 332.8,83.1 333.7,83.0 334.7,82.9 335.6,82.8 336.6,82.7 337.5,82.6 338.4,82.5 339.4,82.4 340.3,82.4 341.2,82.3 342.2,82.2 343.1,82.1 344.1,82.1 345.0,82.0 345.9,81.9 346.9,81.9 347.8,81.8 348.7,81.8 349.7,81.7 350.6,81.6 351.6,81.6 352.5,81.5 353.4,81.5 354.4,81.4 355.3,81.4 356.3,81.3 357.2,81.3 358.1,81.3 359.1,81.3 360.0,81.2 360.9,81.2 361.9,81.2 362.7,81.4 363.4,81.7 364.2,81.9 365.0,82.1 365.8,82.4 366.6,82.6 367.3,82.8 368.1,83.0 368.9,83.2 369.7,83.4 370.5,83.6 371.3,83.8 372.0,84.0 372.8,84.2 373.6,84.3 374.4,84.5 375.3,84.7 376.3,84.9 377.2,85.1 378.1,85.2 379.1,85.3 380.0,85.4 380.9,85.5 381.9,85.5 382.8,85.6 383.8,85.7 384.7,85.7 385.6,85.8 386.6,85.8 387.5,85.8 388.4,85.9 389.4,85.9 390.3,85.9 391.3,85.9 392.2,85.9 393.1,85.9 394.1,85.9 395.0,85.9 395.9,85.9 396.9,85.8 397.8,85.8 398.8,85.8 399.7,85.8 400.6,85.8 401.6,85.8 402.5,85.7 403.5,85.7 404.4,85.7 405.3,85.6 406.3,85.6 407.2,85.5 408.1,85.5 409.1,85.4 410.0,85.4 411.0,85.3 411.9,85.3 412.8,85.2 413.8,85.2 414.7,85.1 415.6,85.1 416.6,85.0 417.5,85.0 418.5,84.9 419.4,84.9 420.3,84.8 421.3,84.7 422.2,84.7 423.1,84.6 424.1,84.6 425.0,84.5 426.0,84.5 426.9,84.4 427.8,84.4 428.8,84.3 429.7,84.3 430.6,84.2 431.6,84.2 432.5,84.1 433.5,84.0 434.4,84.0 435.3,83.9 436.3,83.9 437.2,83.8 438.1,83.7 439.1,83.7 440.0,83.6 441.0,83.6 441.9,83.5 442.8,83.4 443.8,83.4 444.7,83.3 445.6,83.3 446.6,83.2 447.5,83.2 448.5,83.1 449.4,83.1 450.3,83.0 451.3,83.0 452.2,82.9 453.2,82.9 454.1,82.9 455.0,82.8 456.0,82.8 456.9,82.7 457.8,82.7 458.8,82.7 459.7,82.6 460.7,82.6 461.6,82.6 462.5,82.5 463.5,82.5 464.4,82.5 465.3,82.4 466.3,82.4 467.2,82.4 468.2,82.3 469.1,82.3 470.0,82.3 471.0,82.3 471.9,82.2 472.8,82.2 473.8,82.1 474.7,82.1 475.7,82.1 476.6,82.0 477.5,82.0 478.5,82.0 479.4,81.9 480.3,81.9 481.3,81.9 482.2,81.8 483.2,81.8 484.1,81.8 485.0,81.8 486.0,81.8 486.9,81.8 487.7,82.0 488.5,82.4 489.3,82.6 490.0,82.9 490.8,83.1 491.6,83.4 492.4,83.6 493.2,83.9 493.9,84.1 494.7,84.3 495.5,84.6 496.3,84.8 497.1,85.0 497.8,85.2 498.6,85.4 499.6,85.6 500.5,85.7 501.4,85.9 502.4,86.0 503.3,86.2 504.3,86.3 505.2,86.4 506.1,86.4 507.1,86.5 508.0,86.5 508.9,86.6 509.9,86.6 510.8,86.7 511.8,86.7 512.7,86.7 513.6,86.7 514.6,86.7 515.5,86.7 516.4,86.7 517.4,86.7 518.3,86.7 519.3,86.7 520.2,86.6 521.1,86.6 522.1,86.6 523.0,86.6 523.9,86.5 524.9,86.5 525.8,86.4 526.8,86.4 527.7,86.4 528.6,86.3 529.6,86.2 530.5,86.2 531.5,86.1 532.4,86.0 533.3,86.0 534.3,85.9 535.2,85.8 536.1,85.8 537.1,85.7 538.0,85.6 539.0,85.6 539.9,85.5 540.8,85.4 541.8,85.4 542.7,85.3 543.6,85.2 544.6,85.1 545.5,85.1 546.5,85.0 547.4,85.0 548.3,84.9 549.3,84.9 550.2,84.8 551.1,84.8 552.1,84.7 553.0,84.6 554.0,84.6 554.9,84.5 555.8,84.5 556.8,84.4 557.7,84.4 558.6,84.3 559.6,84.3 560.5,84.2 561.5,84.2 562.4,84.2 563.3,84.1 564.3,84.1 565.2,84.0 566.1,84.0 567.1,83.9 568.0,83.9 569.0,83.9 569.9,83.8 570.8,83.8 571.8,83.8 572.7,83.7 573.6,83.7 574.6,83.7 575.5,83.7 576.5,83.6 577.4,83.6 578.3,83.6 579.3,83.6 580.2,83.5 581.2,83.5 582.1,83.5 583.0,83.5 584.0,83.5 584.9,83.4 585.8,83.4 586.8,83.4 587.7,83.4 588.7,83.4 589.6,83.3 590.5,83.3 591.5,83.3 592.4,83.3 593.3,83.3 594.3,83.3 595.2,83.2 596.2,83.2 597.1,83.2 598.0,83.2 599.0,83.2 599.9,83.2 600.8,83.2 601.8,83.1 602.7,83.1 603.7,83.1 604.6,83.1 605.5,83.1 606.5,83.1 607.4,83.1 608.3,83.0 609.3,83.0 610.2,83.0 611.2,83.0 612.1,83.0 613.0,83.0 614.0,83.0 614.9,82.9 615.8,82.9 616.8,82.9 617.7,82.9 618.7,82.9 619.6,82.9 620.5,82.9 621.5,82.9 622.4,82.8 623.3,82.8 624.3,82.8 625.2,82.8 626.2,82.8 627.1,82.8 628.0,82.8 629.0,82.8 629.9,82.7 630.9,82.7 631.8,82.7 632.7,82.7 633.7,82.7 634.6,82.7 635.5,82.7 636.5,82.7 637.4,82.6 638.4,82.6 639.3,82.6 640.2,82.6 641.2,82.6 642.1,82.6 643.0,82.6 644.0,82.6 644.9,82.6 645.9,82.5 646.8,82.5 647.7,82.5 648.7,82.5 649.6,82.5 650.5,82.5 651.5,82.5 652.4,82.5 653.4,82.5 654.3,82.5 655.2,82.4 656.2,82.4 657.1,82.4 658.0,82.4 659.0,82.4 659.9,82.4 660.9,82.4 661.8,82.4 662.7,82.4 663.7,82.4 664.6,82.3 665.5,82.3 666.5,82.3 667.4,82.3 668.4,82.3 669.3,82.3 670.2,82.3 671.2,82.3 672.1,82.3 673.0,82.3 674.0,82.2 674.3,82.2" stroke="#512468" stroke-width="1.70" fill="none" stroke-dasharray="1.10 1.10"/>
<path d="M49.3,305.0 49.8,303.8 50.1,302.7 50.4,301.5 50.7,300.0 50.9,299.1 51.0,298.1 51.2,297.1 51.3,296.1 51.5,295.2 51.6,294.3 51.8,293.3 52.0,292.4 52.1,291.5 52.3,290.6 52.4,289.6 52.6,288.7 52.7,287.8 52.9,286.9 53.1,286.0 53.2,285.1 53.4,284.2 53.5,283.3 53.7,282.3 53.8,281.4 54.0,280.4 54.1,279.3 54.3,278.2 54.5,277.1 54.6,275.9 54.8,274.7 54.9,273.5 55.1,272.3 55.2,271.1 55.4,269.9 55.6,268.7 55.7,267.5 55.9,266.4 56.0,265.3 56.2,264.2 56.3,263.1 56.5,262.0 56.6,260.9 56.8,259.8 57.0,258.7 57.1,257.5 57.3,256.4 57.4,255.3 57.6,254.1 57.7,253.0 57.9,251.8 58.1,250.7 58.2,249.6 58.4,248.5 58.5,247.3 58.7,246.1 58.8,244.9 59.0,243.6 59.1,242.3 59.3,240.9 59.5,239.4 59.6,237.9 59.8,236.2 59.9,234.5 60.1,232.7 60.2,230.8 60.4,228.8 60.6,226.8 60.7,224.7 60.9,222.5 61.0,220.2 61.2,217.9 61.3,215.4 61.5,212.7 61.6,209.9 61.8,206.9 62.0,203.7 62.1,199.8 62.3,195.8 62.4,192.3 62.6,189.4 62.7,186.8 62.9,184.2 63.1,181.9 63.2,179.6 63.4,177.3 63.5,175.1 63.7,172.9 63.8,170.7 64.0,168.6 64.1,166.5 64.3,164.5 64.5,162.5 64.6,160.5 64.8,158.5 64.9,156.5 65.1,154.5 65.2,152.4 65.4,150.4 65.6,148.3 65.7,146.2 65.9,144.2 66.0,142.2 66.2,140.3 66.3,138.3 66.5,136.4 66.6,134.5 66.8,132.6 67.0,130.7 67.1,128.9 67.3,127.3 67.4,125.7 67.6,124.3 67.7,123.0 67.9,121.8 68.1,120.5 68.2,119.2 68.4,117.8 68.5,116.2 68.7,114.6 68.8,112.9 69.0,111.2 69.1,109.5 69.3,107.8 69.5,106.1 69.6,104.5 69.8,103.0 69.9,101.5 70.1,100.2 70.2,98.8 70.4,97.5 70.6,96.3 70.7,95.0 70.9,93.8 71.0,92.7 71.2,91.6 71.3,90.6 71.5,89.6 71.6,88.7 71.8,87.7 72.0,86.9 72.1,86.0 72.3,85.1 72.4,84.3 72.7,82.8 73.1,81.3 73.2,80.5 73.4,79.6 73.5,78.7 73.7,77.7 73.8,76.7 74.0,75.7 74.1,74.6 74.3,73.6 74.5,72.6 74.6,71.6 74.8,70.6 74.9,69.6 75.1,68.6 75.2,67.6 75.4,66.6 75.6,65.7 75.7,64.8 76.0,63.3 76.3,61.9 76.7,60.6 77.0,59.4 77.3,58.3 77.6,57.2 77.9,56.3 78.2,55.4 78.5,54.6 78.8,53.8 79.2,53.0 79.6,52.0 80.1,51.0 80.6,50.2 81.0,49.3 81.5,48.6 82.0,47.9 82.4,47.2 82.9,46.5 83.5,45.7 84.2,44.8 84.8,44.0 85.4,43.3 86.0,42.8 86.8,42.2 87.6,41.7 88.4,41.3 89.2,40.9 89.9,40.7 90.7,40.5 91.5,40.3 92.4,40.1 93.4,40.1 94.3,40.3 95.1,40.5 95.9,40.8 96.7,41.1 97.4,41.4 98.2,41.7 99.0,42.1 99.8,42.6 100.6,43.1 101.3,43.6 102.1,44.0 102.9,44.6 103.7,45.1 104.5,45.7 105.3,46.3 106.0,46.9 106.7,47.4 107.3,47.9 107.9,48.5 108.5,49.1 109.2,49.6 109.8,50.2 110.4,50.7 111.0,51.3 111.7,51.8 112.3,52.4 112.9,53.1 113.5,53.7 114.2,54.3 114.8,54.9 115.4,55.5 116.0,56.1 116.7,56.7 117.3,57.2 117.9,57.8 118.5,58.3 119.2,58.9 119.8,59.4 120.4,59.9 121.0,60.4 121.8,61.0 122.6,61.6 123.4,62.1 124.2,62.6 124.9,63.1 125.7,63.6 126.5,64.0 127.3,64.5 128.1,64.9 128.9,65.4 129.6,65.9 130.4,66.3 131.2,66.8 132.0,67.3 132.8,67.7 133.5,68.2 134.3,68.6 135.1,68.9 135.9,69.3 136.7,69.7 137.4,70.1 138.2,70.4 139.0,70.7 139.8,71.0 140.6,71.3 141.4,71.5 142.1,71.7 142.9,72.0 143.7,72.2 144.5,72.4 145.3,72.6 146.0,72.7 146.8,72.9 147.8,73.1 148.7,73.3 149.6,73.4 150.6,73.6 151.5,73.7 152.5,73.8 153.4,73.9 154.3,74.1 155.3,74.2 156.2,74.3 157.1,74.3 158.1,74.4 159.0,74.5 160.0,74.6 160.9,74.7 161.8,74.7 162.8,74.8 163.7,74.9 164.6,75.0 165.6,75.0 166.5,75.1 167.5,75.1 168.4,75.2 169.3,75.3 170.3,75.3 171.2,75.4 172.1,75.4 173.1,75.5 174.0,75.6 175.0,75.6 175.9,75.7 176.8,75.7 177.8,75.8 178.7,75.8 179.6,75.9 180.6,75.9 181.5,76.0 182.5,76.0 183.4,76.0 184.3,76.1 185.3,76.1 186.2,76.1 187.1,76.2 188.1,76.2 189.0,76.2 190.0,76.2 190.9,76.3 191.8,76.3 192.8,76.3 193.7,76.3 194.6,76.4 195.6,76.4 196.5,76.4 197.5,76.4 198.4,76.5 199.3,76.5 200.3,76.5 201.2,76.5 202.2,76.5 203.1,76.6 204.0,76.6 205.0,76.6 205.9,76.6 206.8,76.7 207.8,76.7 208.7,76.7 209.7,76.7 210.6,76.7 211.5,76.7 212.5,76.8 213.4,76.8 214.3,76.8 215.3,76.8 216.2,76.8 217.2,76.9 218.1,76.9 219.0,76.9 220.0,76.9 220.9,76.9 221.8,76.9 222.8,77.0 223.7,77.0 224.7,77.0 225.6,77.0 226.5,77.0 227.5,77.0 228.4,77.0 229.3,77.1 230.3,77.1 231.2,77.1 232.2,77.1 233.1,77.1 234.0,77.1 235.0,77.2 235.9,77.2 236.8,77.2 237.8,77.2 238.7,77.2 239.7,77.2 240.6,77.2 241.5,77.3 242.5,77.3 243.4,77.3 244.3,77.3 245.3,77.3 246.2,77.3 247.2,77.4 248.1,77.4 249.0,77.4 250.0,77.4 250.9,77.4 251.9,77.4 252.8,77.4 253.7,77.5 254.7,77.5 255.6,77.5 256.5,77.5 257.5,77.5 258.4,77.5 259.4,77.6 260.3,77.6 261.2,77.6 262.2,77.6 263.1,77.6 264.0,77.6 265.0,77.6 265.9,77.7 266.9,77.7 267.8,77.7 268.7,77.7 269.7,77.7 270.6,77.7 271.5,77.7 272.5,77.8 273.4,77.8 274.4,77.8 275.3,77.8 276.2,77.8 277.2,77.8 278.1,77.8 279.0,77.9 280.0,77.9 280.9,77.9 281.9,77.9 282.8,77.9 283.7,77.9 284.7,78.0 285.6,78.0 286.5,78.0 287.5,78.0 288.4,78.0 289.4,78.0 290.3,78.0 291.2,78.1 292.2,78.1 293.1,78.1 294.0,78.1 295.0,78.1 295.9,78.1 296.9,78.1 297.8,78.2 298.7,78.2 299.7,78.2 300.6,78.2 301.6,78.2 302.5,78.2 303.4,78.3 304.4,78.3 305.3,78.3 306.2,78.3 307.2,78.3 308.1,78.3 309.1,78.4 310.0,78.4 310.9,78.4 311.9,78.4 312.8,78.4 313.7,78.4 314.7,78.5 315.6,78.5 316.6,78.5 317.5,78.5 318.4,78.5 319.4,78.5 320.3,78.6 321.2,78.6 322.2,78.6 323.1,78.6 324.1,78.6 325.0,78.6 325.9,78.7 326.9,78.7 327.8,78.7 328.7,78.7 329.7,78.7 330.6,78.7 331.6,78.8 332.5,78.8 333.4,78.8 334.4,78.8 335.3,78.8 336.2,78.8 337.2,78.9 338.1,78.9 339.1,78.9 340.0,78.9 340.9,78.9 341.9,78.9 342.8,78.9 343.7,78.9 344.7,79.0 345.6,79.0 346.6,79.0 347.5,79.0 348.4,79.0 349.4,79.0 350.3,79.0 351.3,79.0 352.2,79.0 353.1,79.0 354.1,79.0 355.0,79.1 355.9,79.1 356.9,79.1 357.8,79.1 358.8,79.2 359.7,79.2 360.6,79.2 361.6,79.3 362.5,79.5 363.3,79.9 364.1,80.2 364.8,80.4 365.6,80.6 366.4,80.9 367.2,81.1 368.0,81.4 368.8,81.6 369.5,81.8 370.3,82.0 371.1,82.2 371.9,82.4 372.7,82.6 373.6,82.8 374.5,83.0 375.5,83.2 376.4,83.3 377.4,83.5 378.3,83.6 379.2,83.6 380.2,83.7 381.1,83.7 382.0,83.8 383.0,83.8 383.9,83.9 384.9,83.9 385.8,83.9 386.7,83.9 387.7,83.9 388.6,84.0 389.5,84.0 390.5,84.0 391.4,84.0 392.4,84.0 393.3,83.9 394.2,83.9 395.2,83.9 396.1,83.9 397.0,83.8 398.0,83.8 398.9,83.8 399.9,83.7 400.8,83.7 401.7,83.6 402.7,83.6 403.6,83.6 404.5,83.5 405.5,83.5 406.4,83.4 407.4,83.4 408.3,83.3 409.2,83.3 410.2,83.2 411.1,83.2 412.0,83.1 413.0,83.1 413.9,83.0 414.9,83.0 415.8,82.9 416.7,82.9 417.7,82.8 418.6,82.8 419.5,82.8 420.5,82.7 421.4,82.7 422.4,82.6 423.3,82.6 424.2,82.6 425.2,82.5 426.1,82.5 427.1,82.4 428.0,82.4 428.9,82.4 429.9,82.4 430.8,82.3 431.7,82.3 432.7,82.3 433.6,82.2 434.6,82.2 435.5,82.2 436.4,82.2 437.4,82.1 438.3,82.1 439.2,82.1 440.2,82.1 441.1,82.1 442.1,82.0 443.0,82.0 443.9,82.0 444.9,82.0 445.8,82.0 446.7,82.0 447.7,82.0 448.6,82.0 449.6,81.9 450.5,81.9 451.4,81.9 452.4,81.9 453.3,81.9 454.2,81.9 455.2,81.9 456.1,81.9 457.1,81.9 458.0,81.9 458.9,81.9 459.9,81.9 460.8,81.9 461.7,81.9 462.7,81.9 463.6,81.9 464.6,81.9 465.5,82.0 466.4,82.0 467.4,82.0 468.3,82.0 469.2,82.0 470.2,82.0 471.1,82.0 472.1,82.0 473.0,82.0 473.9,82.0 474.9,82.0 475.8,81.9 476.8,81.9 477.7,81.9 478.6,81.9 479.6,81.9 480.5,81.8 481.4,81.8 482.4,81.8 483.3,81.8 484.3,81.8 485.2,81.8 486.1,81.8 487.1,81.8 487.8,82.1 488.6,82.4 489.4,82.6 490.2,82.9 491.0,83.1 491.8,83.4 492.5,83.6 493.3,83.8 494.1,84.0 494.9,84.3 495.7,84.5 496.4,84.7 497.2,84.9 498.0,85.0 498.9,85.2 499.9,85.4 500.8,85.6 501.8,85.7 502.7,85.8 503.6,85.9 504.6,86.0 505.5,86.1 506.4,86.1 507.4,86.1 508.3,86.2 509.3,86.2 510.2,86.2 511.1,86.2 512.1,86.2 513.0,86.2 513.9,86.2 514.9,86.2 515.8,86.2 516.8,86.2 517.7,86.1 518.6,86.1 519.6,86.1 520.5,86.0 521.4,86.0 522.4,85.9 523.3,85.8 524.3,85.8 525.2,85.7 526.1,85.7 527.1,85.6 528.0,85.6 529.0,85.5 529.9,85.5 530.8,85.4 531.8,85.4 532.7,85.3 533.6,85.3 534.6,85.2 535.5,85.2 536.5,85.1 537.4,85.0 538.3,85.0 539.3,84.9 540.2,84.9 541.1,84.8 542.1,84.8 543.0,84.7 544.0,84.6 544.9,84.6 545.8,84.5 546.8,84.5 547.7,84.4 548.6,84.4 549.6,84.3 550.5,84.3 551.5,84.2 552.4,84.1 553.3,84.1 554.3,84.0 555.2,84.0 556.1,83.9 557.1,83.9 558.0,83.8 559.0,83.8 559.9,83.7 560.8,83.7 561.8,83.7 562.7,83.7 563.6,83.6 564.6,83.6 565.5,83.6 566.5,83.6 567.4,83.5 568.3,83.5 569.3,83.5 570.2,83.5 571.1,83.4 572.1,83.4 573.0,83.4 574.0,83.3 574.9,83.3 575.8,83.3 576.8,83.3 577.7,83.2 578.7,83.2 579.6,83.2 580.5,83.2 581.5,83.1 582.4,83.1 583.3,83.1 584.3,83.1 585.2,83.1 586.2,83.1 587.1,83.0 588.0,83.0 589.0,83.0 589.9,83.0 590.8,83.0 591.8,83.0 592.7,82.9 593.7,82.9 594.6,82.9 595.5,82.9 596.5,82.9 597.4,82.9 598.3,82.9 599.3,82.9 600.2,82.8 601.2,82.8 602.1,82.8 603.0,82.8 604.0,82.8 604.9,82.8 605.8,82.8 606.8,82.8 607.7,82.7 608.7,82.7 609.6,82.7 610.5,82.7 611.5,82.7 612.4,82.7 613.3,82.7 614.3,82.7 615.2,82.7 616.2,82.6 617.1,82.6 618.0,82.6 619.0,82.6 619.9,82.6 620.8,82.6 621.8,82.6 622.7,82.6 623.7,82.6 624.6,82.5 625.5,82.5 626.5,82.5 627.4,82.5 628.4,82.5 629.3,82.5 630.2,82.5 631.2,82.5 632.1,82.5 633.0,82.5 634.0,82.4 634.9,82.4 635.9,82.4 636.8,82.4 637.7,82.4 638.7,82.4 639.6,82.4 640.5,82.4 641.5,82.4 642.4,82.4 643.4,82.4 644.3,82.3 645.2,82.3 646.2,82.3 647.1,82.3 648.0,82.3 649.0,82.3 649.9,82.3 650.9,82.3 651.8,82.3 652.7,82.3 653.7,82.3 654.6,82.2 655.5,82.2 656.5,82.2 657.4,82.2 658.4,82.2 659.3,82.2 660.2,82.2 661.2,82.2 662.1,82.2 663.0,82.2 664.0,82.2 664.9,82.1 665.9,82.1 666.8,82.1 667.7,82.1 668.7,82.1 669.6,82.1 670.5,82.1 671.5,82.1 672.4,82.1 673.4,82.1 674.3,82.1" stroke="#70a42c" stroke-width="1.75" fill="none" stroke-dasharray="5.30 4.60" stroke-dashoffset="0.60"/>
</g>
<rect x="49.30" y="6.20" width="625.00" height="298.80" fill="none" stroke="#606060" stroke-width="1.1"/>
<path d="M111.80,305.00V299.00M111.80,6.20V12.20M174.30,305.00V299.00M174.30,6.20V12.20M236.80,305.00V299.00M236.80,6.20V12.20M299.30,305.00V299.00M299.30,6.20V12.20M361.80,305.00V299.00M361.80,6.20V12.20M424.30,305.00V299.00M424.30,6.20V12.20M486.80,305.00V299.00M486.80,6.20V12.20M549.30,305.00V299.00M549.30,6.20V12.20M611.80,305.00V299.00M611.80,6.20V12.20M49.30,267.65H55.30M674.30,267.65H668.30M49.30,230.30H55.30M674.30,230.30H668.30M49.30,192.95H55.30M674.30,192.95H668.30M49.30,155.60H55.30M674.30,155.60H668.30M49.30,118.25H55.30M674.30,118.25H668.30M49.30,80.90H55.30M674.30,80.90H668.30M49.30,43.55H55.30M674.30,43.55H668.30" stroke="#606060" stroke-width="1.0" fill="none"/>
<text x="49.30" y="323.70" font-size="14.00" text-anchor="middle">0</text>
<text x="111.80" y="323.70" font-size="14.00" text-anchor="middle">0.01</text>
<text x="174.30" y="323.70" font-size="14.00" text-anchor="middle">0.02</text>
<text x="236.80" y="323.70" font-size="14.00" text-anchor="middle">0.03</text>
<text x="299.30" y="323.70" font-size="14.00" text-anchor="middle">0.04</text>
<text x="361.80" y="323.70" font-size="14.00" text-anchor="middle">0.05</text>
<text x="424.30" y="323.70" font-size="14.00" text-anchor="middle">0.06</text>
<text x="486.80" y="323.70" font-size="14.00" text-anchor="middle">0.07</text>
<text x="549.30" y="323.70" font-size="14.00" text-anchor="middle">0.08</text>
<text x="611.80" y="323.70" font-size="14.00" text-anchor="middle">0.09</text>
<text x="674.30" y="323.70" font-size="14.00" text-anchor="middle">0.1</text>
<text x="44.70" y="310.90" font-size="14.00" text-anchor="end">0</text>
<text x="44.70" y="273.55" font-size="14.00" text-anchor="end">50</text>
<text x="44.70" y="236.20" font-size="14.00" text-anchor="end">100</text>
<text x="44.70" y="198.85" font-size="14.00" text-anchor="end">150</text>
<text x="44.70" y="161.50" font-size="14.00" text-anchor="end">200</text>
<text x="44.70" y="124.15" font-size="14.00" text-anchor="end">250</text>
<text x="44.70" y="86.80" font-size="14.00" text-anchor="end">300</text>
<text x="44.70" y="49.45" font-size="14.00" text-anchor="end">350</text>
<text x="44.70" y="12.10" font-size="14.00" text-anchor="end">400</text>
<text x="361.80" y="343.50" font-size="16" text-anchor="middle" textLength="56.3" lengthAdjust="spacingAndGlyphs">Time (s)</text>
<text transform="translate(16.5,154.30) rotate(-90)" font-size="16" text-anchor="middle" textLength="138.5" lengthAdjust="spacingAndGlyphs">Motor Speed (rad/s)</text>
<line x1="361.80" y1="74.10" x2="455.55" y2="74.10" stroke="#4e4e4e" stroke-width="1.15" stroke-dasharray="3.90 2.55" stroke-dashoffset="4.35"/>
<line x1="361.80" y1="92.20" x2="455.55" y2="92.20" stroke="#4e4e4e" stroke-width="1.15" stroke-dasharray="3.90 2.55" stroke-dashoffset="3.15"/>
<line x1="361.80" y1="74.10" x2="361.80" y2="92.20" stroke="#4e4e4e" stroke-width="1.15" stroke-dasharray="3.90 2.55" stroke-dashoffset="6.15"/>
<line x1="455.55" y1="74.10" x2="455.55" y2="92.20" stroke="#4e4e4e" stroke-width="1.15" stroke-dasharray="3.90 2.55" stroke-dashoffset="4.95"/>
<line x1="486.80" y1="74.10" x2="580.55" y2="74.10" stroke="#4e4e4e" stroke-width="1.15" stroke-dasharray="3.90 2.55" stroke-dashoffset="4.35"/>
<line x1="486.80" y1="92.20" x2="580.55" y2="92.20" stroke="#4e4e4e" stroke-width="1.15" stroke-dasharray="3.90 2.55" stroke-dashoffset="3.15"/>
<line x1="486.80" y1="74.10" x2="486.80" y2="92.20" stroke="#4e4e4e" stroke-width="1.15" stroke-dasharray="3.90 2.55" stroke-dashoffset="6.15"/>
<line x1="580.55" y1="74.10" x2="580.55" y2="92.20" stroke="#4e4e4e" stroke-width="1.15" stroke-dasharray="3.90 2.55" stroke-dashoffset="4.95"/>
<rect x="235.70" y="118.80" width="126.80" height="74.60" fill="#fff"/>
<line x1="277.97" y1="118.80" x2="277.97" y2="193.40" stroke="#e2e2e2" stroke-width="1"/>
<line x1="320.23" y1="118.80" x2="320.23" y2="193.40" stroke="#e2e2e2" stroke-width="1"/>
<line x1="235.70" y1="178.48" x2="362.50" y2="178.48" stroke="#e2e2e2" stroke-width="1"/>
<line x1="235.70" y1="163.56" x2="362.50" y2="163.56" stroke="#e2e2e2" stroke-width="1"/>
<line x1="235.70" y1="148.64" x2="362.50" y2="148.64" stroke="#e2e2e2" stroke-width="1"/>
<line x1="235.70" y1="133.72" x2="362.50" y2="133.72" stroke="#e2e2e2" stroke-width="1"/>
<clipPath id="c235"><rect x="235.70" y="118.80" width="126.80" height="74.60"/></clipPath>
<g clip-path="url(#c235)">
<line x1="235.70" y1="148.64" x2="362.50" y2="148.64" stroke="#c4e4f1" stroke-width="1.3"/>
<path d="M235.7,142.1 236.4,142.6 236.8,143.2 237.3,143.9 237.8,144.6 238.3,145.2 238.9,145.8 239.5,146.3 240.1,146.9 240.7,147.4 241.3,148.0 241.9,148.6 242.5,149.1 243.1,149.7 243.7,150.2 244.4,150.8 245.0,151.3 245.6,151.8 246.3,152.3 246.9,152.8 247.5,153.3 248.2,153.8 248.8,154.3 249.5,154.8 250.2,155.2 250.9,155.7 251.6,156.1 252.3,156.5 253.0,156.9 253.7,157.4 254.4,157.8 255.1,158.2 255.8,158.5 256.6,158.8 257.4,159.0 258.1,159.3 258.9,159.5 259.7,159.6 260.5,159.8 261.3,159.9 262.1,160.1 262.9,160.2 263.8,160.3 264.6,160.4 265.4,160.4 266.2,160.5 267.1,160.6 267.9,160.6 268.7,160.7 269.5,160.7 270.4,160.8 271.2,160.8 272.0,160.9 272.8,160.9 273.7,160.9 274.5,160.9 275.3,160.9 276.1,160.9 277.0,160.8 277.8,160.8 278.6,160.8 279.4,160.7 280.2,160.7 281.1,160.6 281.9,160.5 282.7,160.4 283.5,160.3 284.4,160.3 285.2,160.2 286.0,160.1 286.8,160.0 287.7,159.9 288.5,159.8 289.3,159.7 290.1,159.6 291.0,159.5 291.8,159.3 292.6,159.2 293.4,159.1 294.3,159.0 295.1,158.9 295.9,158.8 296.7,158.7 297.5,158.6 298.3,158.5 299.1,158.3 299.8,158.2 300.6,158.1 301.4,158.0 302.2,157.8 303.0,157.7 303.8,157.5 304.6,157.4 305.4,157.2 306.2,157.1 307.0,157.0 307.8,156.8 308.6,156.7 309.4,156.6 310.2,156.5 311.1,156.4 311.9,156.4 312.7,156.3 313.5,156.2 314.4,156.1 315.2,156.0 316.0,155.9 316.8,155.7 317.6,155.6 318.4,155.5 319.2,155.4 320.0,155.3 320.8,155.2 321.6,155.1 322.5,155.0 323.3,154.9 324.1,154.8 324.9,154.7 325.8,154.6 326.6,154.6 327.4,154.5 328.2,154.4 329.0,154.4 329.9,154.3 330.7,154.2 331.5,154.1 332.3,154.1 333.2,154.0 334.0,153.9 334.8,153.9 335.6,153.8 336.5,153.7 337.3,153.7 338.1,153.6 338.9,153.5 339.8,153.5 340.6,153.4 341.4,153.4 342.2,153.3 343.1,153.3 343.9,153.2 344.7,153.2 345.5,153.2 346.4,153.1 347.2,153.1 348.0,153.0 348.8,153.0 349.7,153.0 350.5,152.9 351.3,152.9 352.1,152.9 353.0,152.8 353.8,152.8 354.6,152.8 355.4,152.8 356.3,152.7 357.1,152.7 357.9,152.7 358.7,152.7 359.6,152.6 360.4,152.6 361.2,152.6 362.0,152.6 362.5,152.6" stroke="#1a6fb8" stroke-width="1.80" fill="none"/>
<path d="M235.7,142.1 236.4,142.6 236.8,143.2 237.3,143.9 237.8,144.6 238.3,145.2 238.9,145.8 239.5,146.3 240.1,146.9 240.7,147.4 241.3,148.0 241.9,148.6 242.5,149.1 243.1,149.7 243.7,150.2 244.4,150.8 245.0,151.3 245.6,151.8 246.3,152.3 246.9,152.8 247.5,153.3 248.2,153.8 248.8,154.3 249.5,154.8 250.2,155.2 250.9,155.7 251.6,156.1 252.3,156.5 253.0,156.9 253.7,157.4 254.4,157.8 255.1,158.2 255.8,158.5 256.6,158.8 257.4,159.0 258.1,159.3 258.9,159.5 259.7,159.6 260.5,159.8 261.3,159.9 262.1,160.1 262.9,160.2 263.8,160.3 264.6,160.4 265.4,160.4 266.2,160.5 267.1,160.6 267.9,160.6 268.7,160.7 269.5,160.7 270.4,160.8 271.2,160.8 272.0,160.9 272.8,160.9 273.7,160.9 274.5,160.9 275.3,160.9 276.1,160.9 277.0,160.8 277.8,160.8 278.6,160.8 279.4,160.7 280.2,160.7 281.1,160.6 281.9,160.5 282.7,160.4 283.5,160.3 284.4,160.3 285.2,160.2 286.0,160.1 286.8,160.0 287.7,159.9 288.5,159.8 289.3,159.7 290.1,159.6 291.0,159.5 291.8,159.3 292.6,159.2 293.4,159.1 294.3,159.0 295.1,158.9 295.9,158.8 296.7,158.7 297.5,158.6 298.3,158.5 299.1,158.3 299.8,158.2 300.6,158.1 301.4,158.0 302.2,157.8 303.0,157.7 303.8,157.5 304.6,157.4 305.4,157.2 306.2,157.1 307.0,157.0 307.8,156.8 308.6,156.7 309.4,156.6 310.2,156.5 311.1,156.4 311.9,156.4 312.7,156.3 313.5,156.2 314.4,156.1 315.2,156.0 316.0,155.9 316.8,155.7 317.6,155.6 318.4,155.5 319.2,155.4 320.0,155.3 320.8,155.2 321.6,155.1 322.5,155.0 323.3,154.9 324.1,154.8 324.9,154.7 325.8,154.6 326.6,154.6 327.4,154.5 328.2,154.4 329.0,154.4 329.9,154.3 330.7,154.2 331.5,154.1 332.3,154.1 333.2,154.0 334.0,153.9 334.8,153.9 335.6,153.8 336.5,153.7 337.3,153.7 338.1,153.6 338.9,153.5 339.8,153.5 340.6,153.4 341.4,153.4 342.2,153.3 343.1,153.3 343.9,153.2 344.7,153.2 345.5,153.2 346.4,153.1 347.2,153.1 348.0,153.0 348.8,153.0 349.7,153.0 350.5,152.9 351.3,152.9 352.1,152.9 353.0,152.8 353.8,152.8 354.6,152.8 355.4,152.8 356.3,152.7 357.1,152.7 357.9,152.7 358.7,152.7 359.6,152.6 360.4,152.6 361.2,152.6 362.0,152.6 362.5,152.6" stroke="#c8361a" stroke-width="1.80" fill="none" stroke-dasharray="4.50 3.91"/>
<path d="M235.7,142.1 236.4,142.6 236.8,143.2 237.3,143.9 237.8,144.6 238.3,145.2 238.9,145.8 239.5,146.3 240.1,146.9 240.7,147.4 241.3,148.0 241.9,148.6 242.5,149.1 243.1,149.7 243.7,150.2 244.4,150.7 245.0,151.3 245.6,151.8 246.3,152.3 247.0,152.8 247.6,153.3 248.3,153.8 249.0,154.2 249.7,154.7 250.3,155.1 251.0,155.5 251.8,155.9 252.5,156.3 253.2,156.7 253.9,157.1 254.6,157.5 255.4,157.9 256.1,158.1 256.9,158.3 257.7,158.5 258.5,158.7 259.3,158.9 260.1,159.0 260.9,159.1 261.7,159.2 262.5,159.3 263.3,159.4 264.2,159.5 265.0,159.5 265.8,159.6 266.6,159.6 267.5,159.7 268.3,159.8 269.1,159.8 269.9,159.9 270.8,159.9 271.6,160.0 272.4,160.0 273.2,160.0 274.1,160.0 274.9,160.0 275.7,160.0 276.5,160.0 277.4,160.0 278.2,160.0 279.0,160.0 279.8,159.9 280.7,159.8 281.5,159.7 282.3,159.6 283.1,159.5 284.0,159.4 284.8,159.3 285.6,159.2 286.4,159.1 287.3,159.0 288.1,158.9 288.9,158.8 289.7,158.7 290.6,158.6 291.4,158.5 292.2,158.4 293.0,158.4 293.9,158.3 294.7,158.2 295.5,158.1 296.3,158.0 297.1,158.0 298.0,157.9 298.8,157.8 299.6,157.7 300.4,157.7 301.3,157.6 302.1,157.5 302.9,157.4 303.7,157.3 304.6,157.1 305.4,157.0 306.2,156.9 307.0,156.8 307.9,156.7 308.7,156.7 309.5,156.6 310.3,156.5 311.2,156.4 312.0,156.3 312.8,156.2 313.6,156.1 314.5,156.0 315.3,156.0 316.1,155.9 316.9,155.7 317.8,155.6 318.6,155.5 319.4,155.4 320.2,155.3 321.1,155.2 321.9,155.1 322.7,155.1 323.5,155.0 324.4,154.9 325.2,154.9 326.0,154.8 326.8,154.7 327.7,154.7 328.5,154.6 329.3,154.6 330.1,154.5 331.0,154.5 331.8,154.4 332.6,154.4 333.4,154.3 334.2,154.3 335.1,154.2 335.9,154.2 336.7,154.1 337.5,154.1 338.4,154.0 339.2,154.0 340.0,154.0 340.8,153.9 341.7,153.9 342.5,153.9 343.3,153.8 344.1,153.8 345.0,153.8 345.8,153.7 346.6,153.7 347.4,153.7 348.3,153.7 349.1,153.6 349.9,153.6 350.7,153.6 351.6,153.6 352.4,153.5 353.2,153.5 354.0,153.5 354.9,153.5 355.7,153.5 356.5,153.4 357.3,153.4 358.2,153.4 359.0,153.4 359.8,153.4 360.6,153.3 361.5,153.3 362.3,153.3 362.5,153.3" stroke="#e6aa1e" stroke-width="1.80" fill="none" stroke-dasharray="3.91 1.53 1.87 1.53"/>
<path d="M235.7,149.9 236.4,150.3 237.0,150.9 237.5,151.5 238.1,152.1 238.7,152.6 239.4,153.1 240.0,153.6 240.6,154.1 241.3,154.6 241.9,155.1 242.5,155.7 243.2,156.2 243.8,156.7 244.5,157.2 245.1,157.7 245.7,158.2 246.4,158.7 247.0,159.2 247.7,159.7 248.4,160.1 249.0,160.6 249.7,161.0 250.3,161.5 251.0,162.0 251.7,162.4 252.4,162.9 253.1,163.3 253.8,163.8 254.5,164.2 255.2,164.6 255.9,165.0 256.7,165.3 257.5,165.6 258.2,165.9 259.0,166.1 259.8,166.4 260.6,166.6 261.4,166.8 262.1,167.0 262.9,167.2 263.7,167.4 264.5,167.5 265.3,167.7 266.1,167.8 266.9,167.9 267.7,168.0 268.5,168.1 269.3,168.2 270.1,168.3 271.0,168.4 271.8,168.5 272.6,168.6 273.4,168.6 274.3,168.6 275.1,168.7 275.9,168.7 276.7,168.7 277.6,168.7 278.4,168.7 279.2,168.7 280.0,168.6 280.9,168.6 281.7,168.5 282.5,168.4 283.3,168.4 284.1,168.3 285.0,168.3 285.8,168.2 286.6,168.2 287.4,168.2 288.3,168.1 289.1,168.1 289.9,168.0 290.7,167.9 291.6,167.8 292.4,167.8 293.2,167.7 294.0,167.6 294.9,167.4 295.7,167.3 296.5,167.2 297.2,167.1 298.0,167.0 298.8,166.8 299.6,166.7 300.4,166.5 301.2,166.4 302.0,166.3 302.8,166.2 303.6,166.1 304.4,166.0 305.2,165.8 306.0,165.7 306.8,165.6 307.6,165.5 308.3,165.3 309.1,165.2 309.9,165.1 310.7,164.9 311.5,164.8 312.3,164.7 313.1,164.5 313.9,164.4 314.7,164.2 315.5,164.1 316.3,164.0 317.1,163.8 317.9,163.7 318.6,163.5 319.4,163.4 320.2,163.3 321.0,163.1 321.8,163.0 322.6,162.8 323.4,162.7 324.2,162.6 325.0,162.5 325.8,162.3 326.6,162.2 327.4,162.1 328.2,161.9 329.0,161.8 329.7,161.7 330.5,161.6 331.3,161.4 332.1,161.3 332.9,161.1 333.7,161.0 334.5,160.8 335.3,160.7 336.1,160.5 336.9,160.4 337.7,160.2 338.5,160.1 339.3,159.9 340.1,159.8 340.8,159.6 341.6,159.5 342.4,159.3 343.2,159.2 344.0,159.0 344.8,158.9 345.6,158.7 346.4,158.6 347.2,158.5 348.0,158.3 348.8,158.2 349.6,158.0 350.4,157.9 351.1,157.8 351.9,157.7 352.7,157.5 353.5,157.4 354.3,157.3 355.1,157.2 355.9,157.1 356.7,157.0 357.5,156.8 358.3,156.7 359.1,156.6 359.9,156.5 360.8,156.4 361.6,156.3 362.4,156.2 362.5,156.2" stroke="#512468" stroke-width="2.00" fill="none" stroke-dasharray="1.4 1.2"/>
<path d="M235.7,142.1 236.4,142.6 236.8,143.2 237.3,143.9 237.8,144.6 238.3,145.2 238.9,145.8 239.5,146.3 240.1,146.9 240.7,147.4 241.3,148.0 241.9,148.6 242.5,149.1 243.1,149.7 243.7,150.2 244.4,150.8 245.0,151.3 245.6,151.8 246.3,152.3 246.9,152.8 247.5,153.3 248.2,153.8 248.8,154.3 249.5,154.8 250.2,155.2 250.9,155.7 251.6,156.1 252.3,156.5 253.0,156.9 253.7,157.4 254.4,157.8 255.1,158.2 255.8,158.5 256.6,158.8 257.4,159.0 258.1,159.3 258.9,159.5 259.7,159.6 260.5,159.8 261.3,159.9 262.1,160.1 262.9,160.2 263.8,160.3 264.6,160.4 265.4,160.4 266.2,160.5 267.1,160.6 267.9,160.6 268.7,160.7 269.5,160.7 270.4,160.8 271.2,160.8 272.0,160.9 272.8,160.9 273.7,160.9 274.5,160.9 275.3,160.9 276.1,160.9 277.0,160.8 277.8,160.8 278.6,160.8 279.4,160.7 280.2,160.7 281.1,160.6 281.9,160.5 282.7,160.4 283.5,160.3 284.4,160.3 285.2,160.2 286.0,160.1 286.8,160.0 287.7,159.9 288.5,159.8 289.3,159.7 290.1,159.6 291.0,159.5 291.8,159.3 292.6,159.2 293.4,159.1 294.3,159.0 295.1,158.9 295.9,158.8 296.7,158.7 297.5,158.6 298.3,158.5 299.1,158.3 299.8,158.2 300.6,158.1 301.4,158.0 302.2,157.8 303.0,157.7 303.8,157.5 304.6,157.4 305.4,157.2 306.2,157.1 307.0,157.0 307.8,156.8 308.6,156.7 309.4,156.6 310.2,156.5 311.1,156.4 311.9,156.4 312.7,156.3 313.5,156.2 314.4,156.1 315.2,156.0 316.0,155.9 316.8,155.7 317.6,155.6 318.4,155.5 319.2,155.4 320.0,155.3 320.8,155.2 321.6,155.1 322.5,155.0 323.3,154.9 324.1,154.8 324.9,154.7 325.8,154.6 326.6,154.6 327.4,154.5 328.2,154.4 329.0,154.4 329.9,154.3 330.7,154.2 331.5,154.1 332.3,154.1 333.2,154.0 334.0,153.9 334.8,153.9 335.6,153.8 336.5,153.7 337.3,153.7 338.1,153.6 338.9,153.5 339.8,153.5 340.6,153.4 341.4,153.4 342.2,153.3 343.1,153.3 343.9,153.2 344.7,153.2 345.5,153.2 346.4,153.1 347.2,153.1 348.0,153.0 348.8,153.0 349.7,153.0 350.5,152.9 351.3,152.9 352.1,152.9 353.0,152.8 353.8,152.8 354.6,152.8 355.4,152.8 356.3,152.7 357.1,152.7 357.9,152.7 358.7,152.7 359.6,152.6 360.4,152.6 361.2,152.6 362.0,152.6 362.5,152.6" stroke="#70a42c" stroke-width="1.80" fill="none" stroke-dasharray="4.50 3.91" stroke-dashoffset="0.51"/>
</g>
<path d="M235.70,118.80H362.50M235.70,118.80V193.40" stroke="#8c8c8c" stroke-width="1.4" fill="none"/>
<path d="M235.10,193.40H362.50V118.20" stroke="#474747" stroke-width="1.2" fill="none" stroke-linejoin="round"/>
<text x="235.70" y="203.00" font-size="6.4" text-anchor="middle" class="it">0.05</text>
<text x="277.97" y="203.00" font-size="6.4" text-anchor="middle" class="it">0.055</text>
<text x="320.23" y="203.00" font-size="6.4" text-anchor="middle" class="it">0.06</text>
<text x="362.50" y="203.00" font-size="6.4" text-anchor="middle" class="it">0.065</text>
<text x="233.40" y="195.70" font-size="6.4" text-anchor="end" class="it">285</text>
<text x="233.40" y="180.78" font-size="6.4" text-anchor="end" class="it">290</text>
<text x="233.40" y="165.86" font-size="6.4" text-anchor="end" class="it">295</text>
<text x="233.40" y="150.94" font-size="6.4" text-anchor="end" class="it">300</text>
<text x="233.40" y="136.02" font-size="6.4" text-anchor="end" class="it">305</text>
<text x="233.40" y="121.10" font-size="6.4" text-anchor="end" class="it">310</text>
<path d="M235.70,193.40V191.80M235.70,118.80V120.40M277.97,193.40V191.80M277.97,118.80V120.40M320.23,193.40V191.80M320.23,118.80V120.40M362.50,193.40V191.80M362.50,118.80V120.40M235.70,193.40H237.30M362.50,193.40H360.90M235.70,178.48H237.30M362.50,178.48H360.90M235.70,163.56H237.30M362.50,163.56H360.90M235.70,148.64H237.30M362.50,148.64H360.90M235.70,133.72H237.30M362.50,133.72H360.90M235.70,118.80H237.30M362.50,118.80H360.90" stroke="#4a4a4a" stroke-width="0.8" fill="none"/>
<rect x="424.45" y="117.70" width="124.75" height="76.40" fill="#fff"/>
<line x1="466.03" y1="117.70" x2="466.03" y2="194.10" stroke="#e2e2e2" stroke-width="1"/>
<line x1="507.62" y1="117.70" x2="507.62" y2="194.10" stroke="#e2e2e2" stroke-width="1"/>
<line x1="424.45" y1="178.82" x2="549.20" y2="178.82" stroke="#e2e2e2" stroke-width="1"/>
<line x1="424.45" y1="163.54" x2="549.20" y2="163.54" stroke="#e2e2e2" stroke-width="1"/>
<line x1="424.45" y1="148.26" x2="549.20" y2="148.26" stroke="#e2e2e2" stroke-width="1"/>
<line x1="424.45" y1="132.98" x2="549.20" y2="132.98" stroke="#e2e2e2" stroke-width="1"/>
<clipPath id="c424"><rect x="424.45" y="117.70" width="124.75" height="76.40"/></clipPath>
<g clip-path="url(#c424)">
<line x1="424.45" y1="148.26" x2="549.20" y2="148.26" stroke="#c4e4f1" stroke-width="1.3"/>
<path d="M424.4,151.8 425.1,152.2 425.6,152.9 426.1,153.6 426.7,154.2 427.3,154.8 427.9,155.3 428.4,155.9 429.0,156.5 429.6,157.0 430.2,157.6 430.8,158.2 431.4,158.7 432.0,159.2 432.6,159.8 433.2,160.4 433.9,160.9 434.5,161.4 435.1,162.0 435.7,162.5 436.4,163.0 437.1,163.5 437.7,164.0 438.4,164.5 439.0,164.9 439.7,165.4 440.4,165.8 441.1,166.2 441.8,166.7 442.5,167.1 443.2,167.4 444.0,167.8 444.7,168.1 445.5,168.3 446.3,168.6 447.1,168.8 447.8,169.0 448.6,169.2 449.4,169.4 450.2,169.5 451.1,169.6 451.9,169.7 452.7,169.8 453.5,169.9 454.3,169.9 455.1,170.0 455.9,170.0 456.7,170.0 457.5,170.0 458.4,170.0 459.2,170.0 460.0,170.0 460.8,169.9 461.6,169.9 462.4,169.9 463.2,169.9 464.0,169.8 464.8,169.7 465.7,169.7 466.5,169.6 467.3,169.5 468.1,169.4 468.9,169.3 469.7,169.1 470.5,168.9 471.3,168.8 472.1,168.6 473.0,168.4 473.8,168.3 474.6,168.2 475.4,168.1 476.2,167.9 477.0,167.8 477.8,167.7 478.6,167.6 479.4,167.5 480.3,167.3 481.1,167.2 481.9,167.1 482.7,166.9 483.5,166.8 484.3,166.6 485.1,166.5 485.9,166.4 486.7,166.2 487.6,166.1 488.4,165.9 489.2,165.8 490.0,165.6 490.8,165.4 491.6,165.2 492.4,165.1 493.2,164.9 494.0,164.7 494.9,164.6 495.7,164.4 496.5,164.3 497.3,164.1 498.1,164.0 498.9,163.9 499.7,163.7 500.5,163.6 501.3,163.5 502.2,163.3 503.0,163.2 503.8,163.0 504.6,162.9 505.4,162.7 506.2,162.6 507.0,162.4 507.8,162.2 508.6,162.1 509.5,161.9 510.3,161.8 511.1,161.6 511.9,161.5 512.7,161.3 513.5,161.2 514.3,161.0 515.1,160.9 515.9,160.7 516.8,160.6 517.6,160.5 518.4,160.3 519.2,160.2 520.0,160.1 520.8,160.0 521.6,159.9 522.4,159.8 523.2,159.8 524.1,159.7 524.9,159.6 525.7,159.5 526.5,159.4 527.3,159.4 528.1,159.3 528.9,159.2 529.7,159.2 530.5,159.1 531.4,159.0 532.2,159.0 533.0,158.9 533.8,158.8 534.6,158.8 535.4,158.7 536.2,158.6 537.0,158.5 537.8,158.5 538.7,158.4 539.5,158.3 540.3,158.2 541.1,158.2 541.9,158.1 542.7,158.0 543.5,157.9 544.3,157.9 545.1,157.8 546.0,157.7 546.8,157.7 547.6,157.6 548.4,157.6 549.2,157.5" stroke="#1a6fb8" stroke-width="1.80" fill="none"/>
<path d="M424.4,151.8 425.1,152.2 425.6,152.9 426.1,153.6 426.7,154.2 427.3,154.8 427.9,155.3 428.4,155.9 429.0,156.5 429.6,157.0 430.2,157.6 430.8,158.2 431.4,158.7 432.0,159.2 432.6,159.8 433.2,160.4 433.9,160.9 434.5,161.4 435.1,162.0 435.7,162.5 436.4,163.0 437.1,163.5 437.7,164.0 438.4,164.5 439.0,164.9 439.7,165.4 440.4,165.8 441.1,166.2 441.8,166.7 442.5,167.1 443.2,167.4 444.0,167.8 444.7,168.1 445.5,168.3 446.3,168.6 447.1,168.8 447.8,169.0 448.6,169.2 449.4,169.4 450.2,169.5 451.1,169.6 451.9,169.7 452.7,169.8 453.5,169.9 454.3,169.9 455.1,170.0 455.9,170.0 456.7,170.0 457.5,170.0 458.4,170.0 459.2,170.0 460.0,170.0 460.8,169.9 461.6,169.9 462.4,169.9 463.2,169.9 464.0,169.8 464.8,169.7 465.7,169.7 466.5,169.6 467.3,169.5 468.1,169.4 468.9,169.3 469.7,169.1 470.5,168.9 471.3,168.8 472.1,168.6 473.0,168.4 473.8,168.3 474.6,168.2 475.4,168.1 476.2,167.9 477.0,167.8 477.8,167.7 478.6,167.6 479.4,167.5 480.3,167.3 481.1,167.2 481.9,167.1 482.7,166.9 483.5,166.8 484.3,166.6 485.1,166.5 485.9,166.4 486.7,166.2 487.6,166.1 488.4,165.9 489.2,165.8 490.0,165.6 490.8,165.4 491.6,165.2 492.4,165.1 493.2,164.9 494.0,164.7 494.9,164.6 495.7,164.4 496.5,164.3 497.3,164.1 498.1,164.0 498.9,163.9 499.7,163.7 500.5,163.6 501.3,163.5 502.2,163.3 503.0,163.2 503.8,163.0 504.6,162.9 505.4,162.7 506.2,162.6 507.0,162.4 507.8,162.2 508.6,162.1 509.5,161.9 510.3,161.8 511.1,161.6 511.9,161.5 512.7,161.3 513.5,161.2 514.3,161.0 515.1,160.9 515.9,160.7 516.8,160.6 517.6,160.5 518.4,160.3 519.2,160.2 520.0,160.1 520.8,160.0 521.6,159.9 522.4,159.8 523.2,159.8 524.1,159.7 524.9,159.6 525.7,159.5 526.5,159.4 527.3,159.4 528.1,159.3 528.9,159.2 529.7,159.2 530.5,159.1 531.4,159.0 532.2,159.0 533.0,158.9 533.8,158.8 534.6,158.8 535.4,158.7 536.2,158.6 537.0,158.5 537.8,158.5 538.7,158.4 539.5,158.3 540.3,158.2 541.1,158.2 541.9,158.1 542.7,158.0 543.5,157.9 544.3,157.9 545.1,157.8 546.0,157.7 546.8,157.7 547.6,157.6 548.4,157.6 549.2,157.5" stroke="#c8361a" stroke-width="1.80" fill="none" stroke-dasharray="4.50 3.91"/>
<path d="M424.4,151.8 425.1,152.2 425.6,152.9 426.1,153.6 426.7,154.2 427.3,154.7 427.9,155.3 428.4,155.9 429.0,156.4 429.6,157.0 430.2,157.5 430.8,158.1 431.5,158.6 432.1,159.2 432.7,159.7 433.3,160.2 434.0,160.8 434.6,161.3 435.2,161.8 435.9,162.3 436.5,162.8 437.2,163.3 437.9,163.7 438.6,164.2 439.2,164.6 439.9,165.0 440.6,165.5 441.4,165.9 442.1,166.3 442.8,166.6 443.5,167.0 444.3,167.3 445.1,167.5 445.8,167.8 446.6,168.0 447.4,168.2 448.2,168.4 449.0,168.6 449.8,168.7 450.6,168.8 451.4,168.8 452.2,168.9 453.1,168.9 453.9,169.0 454.7,169.0 455.5,169.0 456.3,169.0 457.1,169.0 457.9,169.0 458.7,169.0 459.5,169.0 460.4,168.9 461.2,168.9 462.0,168.9 462.8,168.9 463.6,168.8 464.4,168.8 465.2,168.7 466.0,168.6 466.8,168.5 467.7,168.4 468.5,168.3 469.3,168.2 470.1,168.1 470.9,168.0 471.7,167.8 472.5,167.7 473.3,167.6 474.1,167.5 475.0,167.4 475.8,167.2 476.6,167.1 477.4,167.0 478.2,166.9 479.0,166.8 479.8,166.7 480.6,166.6 481.4,166.4 482.3,166.3 483.1,166.2 483.9,166.1 484.7,165.9 485.5,165.8 486.3,165.7 487.1,165.5 487.9,165.4 488.7,165.3 489.6,165.1 490.4,165.0 491.2,164.8 492.0,164.7 492.8,164.5 493.6,164.4 494.4,164.2 495.2,164.1 496.0,164.0 496.9,163.9 497.7,163.7 498.5,163.6 499.3,163.5 500.1,163.4 500.9,163.3 501.7,163.2 502.5,163.0 503.3,162.9 504.2,162.8 505.0,162.7 505.8,162.5 506.6,162.4 507.4,162.3 508.2,162.1 509.0,162.0 509.8,161.9 510.6,161.7 511.5,161.6 512.3,161.5 513.1,161.3 513.9,161.2 514.7,161.1 515.5,161.0 516.3,160.8 517.1,160.7 517.9,160.6 518.8,160.5 519.6,160.4 520.4,160.3 521.2,160.2 522.0,160.1 522.8,160.0 523.6,159.9 524.4,159.8 525.2,159.8 526.1,159.7 526.9,159.6 527.7,159.5 528.5,159.5 529.3,159.4 530.1,159.3 530.9,159.3 531.7,159.2 532.5,159.1 533.4,159.1 534.2,159.0 535.0,158.9 535.8,158.9 536.6,158.8 537.4,158.7 538.2,158.7 539.0,158.6 539.8,158.5 540.7,158.5 541.5,158.4 542.3,158.4 543.1,158.3 543.9,158.3 544.7,158.2 545.5,158.2 546.3,158.1 547.1,158.1 548.0,158.1 548.8,158.0 549.2,158.0" stroke="#e6aa1e" stroke-width="1.80" fill="none" stroke-dasharray="3.91 1.53 1.87 1.53"/>
<path d="M424.4,151.8 425.1,152.3 425.6,152.9 426.1,153.6 426.6,154.2 427.2,154.8 427.8,155.4 428.4,156.0 429.0,156.6 429.6,157.2 430.2,157.8 430.8,158.3 431.3,158.9 431.9,159.5 432.5,160.1 433.1,160.6 433.7,161.2 434.3,161.7 434.9,162.3 435.6,162.8 436.2,163.4 436.8,163.9 437.4,164.4 438.1,164.9 438.7,165.4 439.4,165.9 440.0,166.4 440.7,166.8 441.4,167.3 442.1,167.7 442.8,168.1 443.5,168.5 444.3,168.8 445.0,169.2 445.8,169.5 446.5,169.8 447.3,170.1 448.1,170.3 448.8,170.6 449.6,170.8 450.4,170.9 451.2,171.1 452.0,171.3 452.8,171.4 453.6,171.5 454.5,171.6 455.3,171.7 456.1,171.8 456.9,171.9 457.7,171.9 458.5,172.0 459.3,172.0 460.1,172.0 460.9,172.0 461.8,172.0 462.6,172.0 463.4,172.0 464.2,172.0 465.0,172.0 465.8,172.0 466.6,172.0 467.4,171.9 468.2,171.8 469.1,171.8 469.9,171.7 470.7,171.6 471.5,171.5 472.3,171.5 473.1,171.4 473.9,171.3 474.7,171.2 475.5,171.1 476.4,170.9 477.2,170.8 478.0,170.7 478.8,170.6 479.6,170.4 480.4,170.3 481.2,170.1 482.0,170.0 482.8,169.8 483.6,169.6 484.4,169.4 485.2,169.2 486.0,169.1 486.7,168.9 487.5,168.7 488.3,168.5 489.1,168.3 490.0,168.2 490.8,168.0 491.6,167.8 492.4,167.6 493.2,167.5 494.0,167.3 494.8,167.1 495.6,166.9 496.4,166.7 497.2,166.6 498.0,166.4 498.8,166.2 499.6,166.0 500.3,165.8 501.2,165.6 502.0,165.5 502.8,165.3 503.6,165.1 504.4,165.0 505.2,164.9 506.0,164.7 506.8,164.6 507.6,164.4 508.5,164.3 509.3,164.2 510.1,164.0 510.9,163.9 511.7,163.7 512.5,163.6 513.3,163.4 514.1,163.3 514.9,163.2 515.8,163.0 516.6,162.9 517.4,162.7 518.2,162.6 519.0,162.5 519.8,162.3 520.6,162.2 521.4,162.1 522.2,162.0 523.1,161.8 523.9,161.7 524.7,161.6 525.5,161.5 526.3,161.4 527.1,161.3 527.9,161.2 528.7,161.0 529.5,160.9 530.4,160.8 531.2,160.7 532.0,160.6 532.8,160.5 533.6,160.4 534.4,160.3 535.2,160.2 536.0,160.1 536.8,160.0 537.7,160.0 538.5,159.9 539.3,159.8 540.1,159.7 540.9,159.7 541.7,159.6 542.5,159.5 543.3,159.5 544.1,159.4 545.0,159.3 545.8,159.3 546.6,159.2 547.4,159.1 548.2,159.1 549.0,159.0 549.2,159.0" stroke="#512468" stroke-width="2.00" fill="none" stroke-dasharray="1.4 1.2"/>
<path d="M424.4,151.8 425.1,152.2 425.6,152.9 426.1,153.6 426.7,154.2 427.3,154.8 427.9,155.3 428.4,155.9 429.0,156.5 429.6,157.0 430.2,157.6 430.8,158.2 431.4,158.7 432.0,159.2 432.6,159.8 433.2,160.4 433.9,160.9 434.5,161.4 435.1,162.0 435.7,162.5 436.4,163.0 437.1,163.5 437.7,164.0 438.4,164.5 439.0,164.9 439.7,165.4 440.4,165.8 441.1,166.2 441.8,166.7 442.5,167.1 443.2,167.4 444.0,167.8 444.7,168.1 445.5,168.3 446.3,168.6 447.1,168.8 447.8,169.0 448.6,169.2 449.4,169.4 450.2,169.5 451.1,169.6 451.9,169.7 452.7,169.8 453.5,169.9 454.3,169.9 455.1,170.0 455.9,170.0 456.7,170.0 457.5,170.0 458.4,170.0 459.2,170.0 460.0,170.0 460.8,169.9 461.6,169.9 462.4,169.9 463.2,169.9 464.0,169.8 464.8,169.7 465.7,169.7 466.5,169.6 467.3,169.5 468.1,169.4 468.9,169.3 469.7,169.1 470.5,168.9 471.3,168.8 472.1,168.6 473.0,168.4 473.8,168.3 474.6,168.2 475.4,168.1 476.2,167.9 477.0,167.8 477.8,167.7 478.6,167.6 479.4,167.5 480.3,167.3 481.1,167.2 481.9,167.1 482.7,166.9 483.5,166.8 484.3,166.6 485.1,166.5 485.9,166.4 486.7,166.2 487.6,166.1 488.4,165.9 489.2,165.8 490.0,165.6 490.8,165.4 491.6,165.2 492.4,165.1 493.2,164.9 494.0,164.7 494.9,164.6 495.7,164.4 496.5,164.3 497.3,164.1 498.1,164.0 498.9,163.9 499.7,163.7 500.5,163.6 501.3,163.5 502.2,163.3 503.0,163.2 503.8,163.0 504.6,162.9 505.4,162.7 506.2,162.6 507.0,162.4 507.8,162.2 508.6,162.1 509.5,161.9 510.3,161.8 511.1,161.6 511.9,161.5 512.7,161.3 513.5,161.2 514.3,161.0 515.1,160.9 515.9,160.7 516.8,160.6 517.6,160.5 518.4,160.3 519.2,160.2 520.0,160.1 520.8,160.0 521.6,159.9 522.4,159.8 523.2,159.8 524.1,159.7 524.9,159.6 525.7,159.5 526.5,159.4 527.3,159.4 528.1,159.3 528.9,159.2 529.7,159.2 530.5,159.1 531.4,159.0 532.2,159.0 533.0,158.9 533.8,158.8 534.6,158.8 535.4,158.7 536.2,158.6 537.0,158.5 537.8,158.5 538.7,158.4 539.5,158.3 540.3,158.2 541.1,158.2 541.9,158.1 542.7,158.0 543.5,157.9 544.3,157.9 545.1,157.8 546.0,157.7 546.8,157.7 547.6,157.6 548.4,157.6 549.2,157.5" stroke="#70a42c" stroke-width="1.80" fill="none" stroke-dasharray="4.50 3.91" stroke-dashoffset="0.51"/>
</g>
<path d="M424.45,117.70H549.20M424.45,117.70V194.10" stroke="#8c8c8c" stroke-width="1.4" fill="none"/>
<path d="M423.85,194.10H549.20V117.10" stroke="#474747" stroke-width="1.2" fill="none" stroke-linejoin="round"/>
<text x="424.45" y="203.70" font-size="6.4" text-anchor="middle" class="it">0.07</text>
<text x="466.03" y="203.70" font-size="6.4" text-anchor="middle" class="it">0.075</text>
<text x="507.62" y="203.70" font-size="6.4" text-anchor="middle" class="it">0.08</text>
<text x="549.20" y="203.70" font-size="6.4" text-anchor="middle" class="it">0.085</text>
<text x="422.15" y="196.40" font-size="6.4" text-anchor="end" class="it">285</text>
<text x="422.15" y="181.12" font-size="6.4" text-anchor="end" class="it">290</text>
<text x="422.15" y="165.84" font-size="6.4" text-anchor="end" class="it">295</text>
<text x="422.15" y="150.56" font-size="6.4" text-anchor="end" class="it">300</text>
<text x="422.15" y="135.28" font-size="6.4" text-anchor="end" class="it">305</text>
<text x="422.15" y="120.00" font-size="6.4" text-anchor="end" class="it">310</text>
<path d="M424.45,194.10V192.50M424.45,117.70V119.30M466.03,194.10V192.50M466.03,117.70V119.30M507.62,194.10V192.50M507.62,117.70V119.30M549.20,194.10V192.50M549.20,117.70V119.30M424.45,194.10H426.05M549.20,194.10H547.60M424.45,178.82H426.05M549.20,178.82H547.60M424.45,163.54H426.05M549.20,163.54H547.60M424.45,148.26H426.05M549.20,148.26H547.60M424.45,132.98H426.05M549.20,132.98H547.60M424.45,117.70H426.05M549.20,117.70H547.60" stroke="#4a4a4a" stroke-width="0.8" fill="none"/>
<line x1="386.50" y1="91.90" x2="368.34" y2="111.14" stroke="#262626" stroke-width="1.1"/>
<path d="M364.70,115.00 L367.26,108.06 L368.34,111.14 L371.48,112.04 Z" fill="#111"/>
<line x1="551.50" y1="91.90" x2="533.67" y2="111.48" stroke="#262626" stroke-width="1.1"/>
<path d="M530.10,115.40 L532.53,108.42 L533.67,111.48 L536.82,112.32 Z" fill="#111"/>
<rect x="584.50" y="200.90" width="83.70" height="98.90" fill="#fff" stroke="#7a7a7a" stroke-width="1.2"/>
<line x1="587" y1="209.70" x2="607.8" y2="209.70" stroke="#1a6fb8" stroke-width="1.65"/>
<text x="609.0" y="214.50" font-size="12.9">PI</text>
<line x1="587" y1="225.90" x2="607.8" y2="225.90" stroke="#c8361a" stroke-width="1.65" stroke-dasharray="5.3 4.6"/>
<text x="609.0" y="230.70" font-size="12.9">NN</text>
<line x1="587" y1="242.10" x2="607.8" y2="242.10" stroke="#e6aa1e" stroke-width="1.65" stroke-dasharray="5.2 0.9 3.0 0.9"/>
<text x="609.0" y="246.90" font-size="12.9">LR</text>
<line x1="587" y1="258.30" x2="607.8" y2="258.30" stroke="#512468" stroke-width="1.60" stroke-dasharray="1.1 1.1"/>
<text x="609.0" y="263.10" font-size="12.9">LSTM</text>
<line x1="587" y1="274.50" x2="607.8" y2="274.50" stroke="#70a42c" stroke-width="1.65" stroke-dasharray="5.3 4.6"/>
<text x="609.0" y="279.30" font-size="12.9">SVM</text>
<line x1="587" y1="290.70" x2="607.8" y2="290.70" stroke="#c4e4f1" stroke-width="1.30"/>
<text x="609.0" y="295.50" font-size="12.9">Ref.speed</text>
</svg>
</body></html>
